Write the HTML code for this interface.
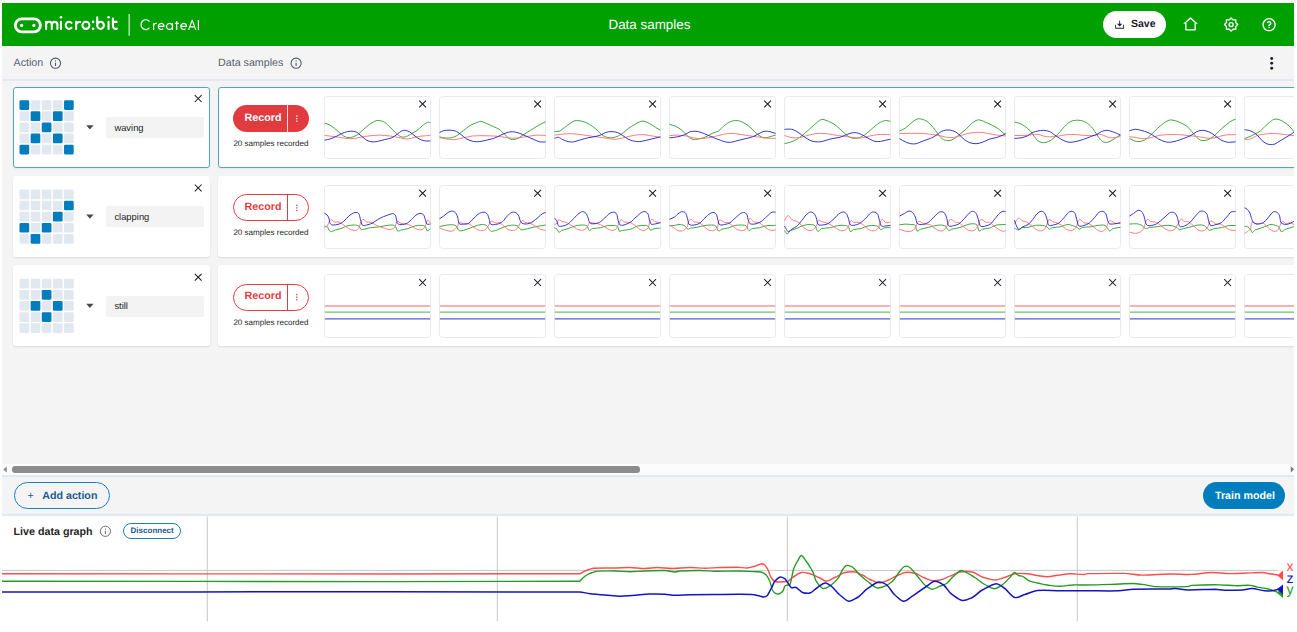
<!DOCTYPE html>
<html><head><meta charset="utf-8"><title>micro:bit CreateAI</title>
<style>
html,body{margin:0;padding:0;background:#fff;}
body{width:1297px;height:632px;overflow:hidden;position:relative;font-family:"Liberation Sans", sans-serif;color:#262626;text-rendering:geometricPrecision;}
#app{position:absolute;left:2px;top:3px;width:1292px;height:619px;background:#f4f4f4;overflow:hidden;}
.abs{position:absolute;}
.t{position:absolute;white-space:nowrap;line-height:1;}
.card{position:absolute;background:#fff;border-radius:3px;box-shadow:0 1px 2px rgba(0,0,0,0.10);box-sizing:border-box;}
.card.sel{border:1px solid #4ea3d3;box-shadow:0 1px 1.5px rgba(120,60,40,0.08);}
.inp{position:absolute;background:#f3f3f3;border-radius:2px;}
.samp{position:absolute;background:#fff;border:1px solid #e7eaf1;border-radius:3.5px;box-sizing:border-box;}
svg{position:absolute;left:0;top:0;overflow:visible;}
</style></head><body>
<div id="app">

<div class="abs" style="left:-2px;top:-3px;width:1297px;height:632px;">
<div class="abs" style="left:2px;top:3px;width:1292px;height:43px;background:#00a000;"></div>
<div class="t" style="left:608.5px;top:17.5px;font-size:13.4px;color:#fff;">Data samples</div>
<div class="abs" style="left:1103px;top:10.7px;width:63px;height:27px;border-radius:14px;background:#fff;"></div>
<div class="t" style="left:1131px;top:19px;font-size:10.5px;font-weight:bold;color:#1a202c;">Save</div>
<div class="t" style="left:13.5px;top:57.6px;font-size:10.7px;color:#5a6270;">Action</div>
<div class="t" style="left:218px;top:57.6px;font-size:10.7px;color:#5a6270;">Data samples</div>
<div class="abs" style="left:2px;top:79px;width:1292px;height:2.4px;background:#e3e8f2;"></div>
<div class="card sel" style="left:13.1px;top:87.0px;width:196.9px;height:81.0px;"></div>
<div class="card sel" style="left:217.9px;top:87.0px;width:1090px;height:81.0px;"></div>
<div class="inp" style="left:106px;top:117.0px;width:97.6px;height:21px;"></div>
<div class="t" style="left:114.4px;top:122.8px;font-size:9.4px;color:#262626;">waving</div>
<div class="abs" style="left:233px;top:105.0px;width:76px;height:27px;border-radius:14px;background:#e23b3f;box-sizing:border-box;"></div>
<div class="abs" style="left:287.2px;top:105.0px;width:0.8px;height:27px;background:#fff;opacity:.85"></div>
<div class="t" style="left:244.6px;top:113.2px;font-size:10.7px;font-weight:bold;color:#fff;">Record</div>
<div class="t" style="left:233.4px;top:139.6px;font-size:8.05px;color:#262626;">20 samples recorded</div>
<div class="samp" style="left:324px;top:96px;width:107px;height:63px;"></div>
<div class="samp" style="left:439px;top:96px;width:107px;height:63px;"></div>
<div class="samp" style="left:554px;top:96px;width:107px;height:63px;"></div>
<div class="samp" style="left:669px;top:96px;width:107px;height:63px;"></div>
<div class="samp" style="left:784px;top:96px;width:107px;height:63px;"></div>
<div class="samp" style="left:899px;top:96px;width:107px;height:63px;"></div>
<div class="samp" style="left:1014px;top:96px;width:107px;height:63px;"></div>
<div class="samp" style="left:1129px;top:96px;width:107px;height:63px;"></div>
<div class="samp" style="left:1244px;top:96px;width:107px;height:63px;"></div>
<div class="card" style="left:13.1px;top:176.1px;width:196.9px;height:80.7px;"></div>
<div class="card" style="left:217.9px;top:176.1px;width:1090px;height:80.7px;"></div>
<div class="inp" style="left:106px;top:206.3px;width:97.6px;height:21px;"></div>
<div class="t" style="left:114.4px;top:212.1px;font-size:9.4px;color:#262626;">clapping</div>
<div class="abs" style="left:233px;top:194.3px;width:76px;height:27px;border-radius:14px;background:#fff;border:1px solid #e23b3f;box-sizing:border-box;"></div>
<div class="abs" style="left:287.2px;top:194.3px;width:0.8px;height:27px;background:#e23b3f;"></div>
<div class="t" style="left:244.6px;top:202.0px;font-size:10.7px;font-weight:bold;color:#e23b3f;">Record</div>
<div class="t" style="left:233.4px;top:229.4px;font-size:8.05px;color:#262626;">20 samples recorded</div>
<div class="samp" style="left:324px;top:185px;width:107px;height:64px;"></div>
<div class="samp" style="left:439px;top:185px;width:107px;height:64px;"></div>
<div class="samp" style="left:554px;top:185px;width:107px;height:64px;"></div>
<div class="samp" style="left:669px;top:185px;width:107px;height:64px;"></div>
<div class="samp" style="left:784px;top:185px;width:107px;height:64px;"></div>
<div class="samp" style="left:899px;top:185px;width:107px;height:64px;"></div>
<div class="samp" style="left:1014px;top:185px;width:107px;height:64px;"></div>
<div class="samp" style="left:1129px;top:185px;width:107px;height:64px;"></div>
<div class="samp" style="left:1244px;top:185px;width:107px;height:64px;"></div>
<div class="card" style="left:13.1px;top:265.3px;width:196.9px;height:81.2px;"></div>
<div class="card" style="left:217.9px;top:265.3px;width:1090px;height:81.2px;"></div>
<div class="inp" style="left:106px;top:295.6px;width:97.6px;height:21px;"></div>
<div class="t" style="left:114.4px;top:301.4px;font-size:9.4px;color:#262626;">still</div>
<div class="abs" style="left:233px;top:283.6px;width:76px;height:27px;border-radius:14px;background:#fff;border:1px solid #e23b3f;box-sizing:border-box;"></div>
<div class="abs" style="left:287.2px;top:283.6px;width:0.8px;height:27px;background:#e23b3f;"></div>
<div class="t" style="left:244.6px;top:291.3px;font-size:10.7px;font-weight:bold;color:#e23b3f;">Record</div>
<div class="t" style="left:233.4px;top:318.7px;font-size:8.05px;color:#262626;">20 samples recorded</div>
<div class="samp" style="left:324px;top:274px;width:107px;height:64px;"></div>
<div class="samp" style="left:439px;top:274px;width:107px;height:64px;"></div>
<div class="samp" style="left:554px;top:274px;width:107px;height:64px;"></div>
<div class="samp" style="left:669px;top:274px;width:107px;height:64px;"></div>
<div class="samp" style="left:784px;top:274px;width:107px;height:64px;"></div>
<div class="samp" style="left:899px;top:274px;width:107px;height:64px;"></div>
<div class="samp" style="left:1014px;top:274px;width:107px;height:64px;"></div>
<div class="samp" style="left:1129px;top:274px;width:107px;height:64px;"></div>
<div class="samp" style="left:1244px;top:274px;width:107px;height:64px;"></div>
<div class="abs" style="left:2px;top:464px;width:1292px;height:10.8px;background:#fcfcfc;"></div>
<div class="abs" style="left:12px;top:466.2px;width:628.2px;height:6.4px;border-radius:3.2px;background:#8c8c8c;"></div>
<div class="abs" style="left:2px;top:474.7px;width:1292px;height:2.2px;background:#e3e8f2;"></div>
<div class="abs" style="left:13.6px;top:482px;width:96.2px;height:26.7px;border-radius:14px;border:1.5px solid #1c7ec2;box-sizing:border-box;"></div>
<div class="t" style="left:27.6px;top:490.8px;font-size:10.7px;color:#1d5a90;">+</div>
<div class="t" style="left:42.2px;top:490.8px;font-size:10.7px;font-weight:bold;color:#1d5a90;">Add action</div>
<div class="abs" style="left:1203.1px;top:482px;width:81.9px;height:26.7px;border-radius:14px;background:#007dbc;"></div>
<div class="t" style="left:1215px;top:490.8px;font-size:10.7px;font-weight:bold;color:#fff;">Train model</div>
<div class="abs" style="left:2px;top:514.3px;width:1292px;height:2.2px;background:#e3e8f2;"></div>
<div class="abs" style="left:2px;top:516.4px;width:1292px;height:116px;background:#fff;"></div>
<div class="t" style="left:13.6px;top:526.8px;font-size:10.7px;font-weight:bold;color:#262626;">Live data graph</div>
<div class="abs" style="left:123px;top:523px;width:57.6px;height:16.2px;border-radius:8.1px;border:1.5px solid #1c7ec2;box-sizing:border-box;background:#fff;"></div>
<div class="t" style="left:130.6px;top:527.2px;font-size:8px;font-weight:bold;color:#1d5a90;">Disconnect</div>
<svg width="1297" height="632" viewBox="0 0 1297 632"><rect x="19.50" y="100.20" width="9.70" height="9.70" rx="1.3" fill="#007dbc"/><rect x="30.63" y="100.20" width="9.70" height="9.70" rx="1.3" fill="#e2e8f0"/><rect x="41.76" y="100.20" width="9.70" height="9.70" rx="1.3" fill="#e2e8f0"/><rect x="52.89" y="100.20" width="9.70" height="9.70" rx="1.3" fill="#e2e8f0"/><rect x="64.02" y="100.20" width="9.70" height="9.70" rx="1.3" fill="#007dbc"/><rect x="19.50" y="111.33" width="9.70" height="9.70" rx="1.3" fill="#e2e8f0"/><rect x="30.63" y="111.33" width="9.70" height="9.70" rx="1.3" fill="#007dbc"/><rect x="41.76" y="111.33" width="9.70" height="9.70" rx="1.3" fill="#e2e8f0"/><rect x="52.89" y="111.33" width="9.70" height="9.70" rx="1.3" fill="#007dbc"/><rect x="64.02" y="111.33" width="9.70" height="9.70" rx="1.3" fill="#e2e8f0"/><rect x="19.50" y="122.46" width="9.70" height="9.70" rx="1.3" fill="#e2e8f0"/><rect x="30.63" y="122.46" width="9.70" height="9.70" rx="1.3" fill="#e2e8f0"/><rect x="41.76" y="122.46" width="9.70" height="9.70" rx="1.3" fill="#007dbc"/><rect x="52.89" y="122.46" width="9.70" height="9.70" rx="1.3" fill="#e2e8f0"/><rect x="64.02" y="122.46" width="9.70" height="9.70" rx="1.3" fill="#e2e8f0"/><rect x="19.50" y="133.59" width="9.70" height="9.70" rx="1.3" fill="#e2e8f0"/><rect x="30.63" y="133.59" width="9.70" height="9.70" rx="1.3" fill="#007dbc"/><rect x="41.76" y="133.59" width="9.70" height="9.70" rx="1.3" fill="#e2e8f0"/><rect x="52.89" y="133.59" width="9.70" height="9.70" rx="1.3" fill="#007dbc"/><rect x="64.02" y="133.59" width="9.70" height="9.70" rx="1.3" fill="#e2e8f0"/><rect x="19.50" y="144.72" width="9.70" height="9.70" rx="1.3" fill="#007dbc"/><rect x="30.63" y="144.72" width="9.70" height="9.70" rx="1.3" fill="#e2e8f0"/><rect x="41.76" y="144.72" width="9.70" height="9.70" rx="1.3" fill="#e2e8f0"/><rect x="52.89" y="144.72" width="9.70" height="9.70" rx="1.3" fill="#e2e8f0"/><rect x="64.02" y="144.72" width="9.70" height="9.70" rx="1.3" fill="#007dbc"/><path d="M86.2 125.20h7.4l-3.7 4.2z" fill="#4a4a4a"/><path d="M194.80 95.20L201.60 102.00M201.60 95.20L194.80 102.00" stroke="#191c22" stroke-width="1.05" fill="none"/><path d="M419.20 100.60L426.00 107.40M426.00 100.60L419.20 107.40" stroke="#191c22" stroke-width="1.05" fill="none"/><path d="M534.20 100.60L541.00 107.40M541.00 100.60L534.20 107.40" stroke="#191c22" stroke-width="1.05" fill="none"/><path d="M649.20 100.60L656.00 107.40M656.00 100.60L649.20 107.40" stroke="#191c22" stroke-width="1.05" fill="none"/><path d="M764.20 100.60L771.00 107.40M771.00 100.60L764.20 107.40" stroke="#191c22" stroke-width="1.05" fill="none"/><path d="M879.20 100.60L886.00 107.40M886.00 100.60L879.20 107.40" stroke="#191c22" stroke-width="1.05" fill="none"/><path d="M994.20 100.60L1001.00 107.40M1001.00 100.60L994.20 107.40" stroke="#191c22" stroke-width="1.05" fill="none"/><path d="M1109.20 100.60L1116.00 107.40M1116.00 100.60L1109.20 107.40" stroke="#191c22" stroke-width="1.05" fill="none"/><path d="M1224.20 100.60L1231.00 107.40M1231.00 100.60L1224.20 107.40" stroke="#191c22" stroke-width="1.05" fill="none"/><path d="M1339.20 100.60L1346.00 107.40M1346.00 100.60L1339.20 107.40" stroke="#191c22" stroke-width="1.05" fill="none"/><rect x="19.50" y="189.50" width="9.70" height="9.70" rx="1.3" fill="#e2e8f0"/><rect x="30.63" y="189.50" width="9.70" height="9.70" rx="1.3" fill="#e2e8f0"/><rect x="41.76" y="189.50" width="9.70" height="9.70" rx="1.3" fill="#e2e8f0"/><rect x="52.89" y="189.50" width="9.70" height="9.70" rx="1.3" fill="#e2e8f0"/><rect x="64.02" y="189.50" width="9.70" height="9.70" rx="1.3" fill="#e2e8f0"/><rect x="19.50" y="200.63" width="9.70" height="9.70" rx="1.3" fill="#e2e8f0"/><rect x="30.63" y="200.63" width="9.70" height="9.70" rx="1.3" fill="#e2e8f0"/><rect x="41.76" y="200.63" width="9.70" height="9.70" rx="1.3" fill="#e2e8f0"/><rect x="52.89" y="200.63" width="9.70" height="9.70" rx="1.3" fill="#e2e8f0"/><rect x="64.02" y="200.63" width="9.70" height="9.70" rx="1.3" fill="#007dbc"/><rect x="19.50" y="211.76" width="9.70" height="9.70" rx="1.3" fill="#e2e8f0"/><rect x="30.63" y="211.76" width="9.70" height="9.70" rx="1.3" fill="#e2e8f0"/><rect x="41.76" y="211.76" width="9.70" height="9.70" rx="1.3" fill="#e2e8f0"/><rect x="52.89" y="211.76" width="9.70" height="9.70" rx="1.3" fill="#007dbc"/><rect x="64.02" y="211.76" width="9.70" height="9.70" rx="1.3" fill="#e2e8f0"/><rect x="19.50" y="222.89" width="9.70" height="9.70" rx="1.3" fill="#007dbc"/><rect x="30.63" y="222.89" width="9.70" height="9.70" rx="1.3" fill="#e2e8f0"/><rect x="41.76" y="222.89" width="9.70" height="9.70" rx="1.3" fill="#007dbc"/><rect x="52.89" y="222.89" width="9.70" height="9.70" rx="1.3" fill="#e2e8f0"/><rect x="64.02" y="222.89" width="9.70" height="9.70" rx="1.3" fill="#e2e8f0"/><rect x="19.50" y="234.02" width="9.70" height="9.70" rx="1.3" fill="#e2e8f0"/><rect x="30.63" y="234.02" width="9.70" height="9.70" rx="1.3" fill="#007dbc"/><rect x="41.76" y="234.02" width="9.70" height="9.70" rx="1.3" fill="#e2e8f0"/><rect x="52.89" y="234.02" width="9.70" height="9.70" rx="1.3" fill="#e2e8f0"/><rect x="64.02" y="234.02" width="9.70" height="9.70" rx="1.3" fill="#e2e8f0"/><path d="M86.2 214.50h7.4l-3.7 4.2z" fill="#4a4a4a"/><path d="M194.80 184.50L201.60 191.30M201.60 184.50L194.80 191.30" stroke="#191c22" stroke-width="1.05" fill="none"/><path d="M419.20 189.90L426.00 196.70M426.00 189.90L419.20 196.70" stroke="#191c22" stroke-width="1.05" fill="none"/><path d="M534.20 189.90L541.00 196.70M541.00 189.90L534.20 196.70" stroke="#191c22" stroke-width="1.05" fill="none"/><path d="M649.20 189.90L656.00 196.70M656.00 189.90L649.20 196.70" stroke="#191c22" stroke-width="1.05" fill="none"/><path d="M764.20 189.90L771.00 196.70M771.00 189.90L764.20 196.70" stroke="#191c22" stroke-width="1.05" fill="none"/><path d="M879.20 189.90L886.00 196.70M886.00 189.90L879.20 196.70" stroke="#191c22" stroke-width="1.05" fill="none"/><path d="M994.20 189.90L1001.00 196.70M1001.00 189.90L994.20 196.70" stroke="#191c22" stroke-width="1.05" fill="none"/><path d="M1109.20 189.90L1116.00 196.70M1116.00 189.90L1109.20 196.70" stroke="#191c22" stroke-width="1.05" fill="none"/><path d="M1224.20 189.90L1231.00 196.70M1231.00 189.90L1224.20 196.70" stroke="#191c22" stroke-width="1.05" fill="none"/><path d="M1339.20 189.90L1346.00 196.70M1346.00 189.90L1339.20 196.70" stroke="#191c22" stroke-width="1.05" fill="none"/><rect x="19.50" y="278.80" width="9.70" height="9.70" rx="1.3" fill="#e2e8f0"/><rect x="30.63" y="278.80" width="9.70" height="9.70" rx="1.3" fill="#e2e8f0"/><rect x="41.76" y="278.80" width="9.70" height="9.70" rx="1.3" fill="#e2e8f0"/><rect x="52.89" y="278.80" width="9.70" height="9.70" rx="1.3" fill="#e2e8f0"/><rect x="64.02" y="278.80" width="9.70" height="9.70" rx="1.3" fill="#e2e8f0"/><rect x="19.50" y="289.93" width="9.70" height="9.70" rx="1.3" fill="#e2e8f0"/><rect x="30.63" y="289.93" width="9.70" height="9.70" rx="1.3" fill="#e2e8f0"/><rect x="41.76" y="289.93" width="9.70" height="9.70" rx="1.3" fill="#007dbc"/><rect x="52.89" y="289.93" width="9.70" height="9.70" rx="1.3" fill="#e2e8f0"/><rect x="64.02" y="289.93" width="9.70" height="9.70" rx="1.3" fill="#e2e8f0"/><rect x="19.50" y="301.06" width="9.70" height="9.70" rx="1.3" fill="#e2e8f0"/><rect x="30.63" y="301.06" width="9.70" height="9.70" rx="1.3" fill="#007dbc"/><rect x="41.76" y="301.06" width="9.70" height="9.70" rx="1.3" fill="#e2e8f0"/><rect x="52.89" y="301.06" width="9.70" height="9.70" rx="1.3" fill="#007dbc"/><rect x="64.02" y="301.06" width="9.70" height="9.70" rx="1.3" fill="#e2e8f0"/><rect x="19.50" y="312.19" width="9.70" height="9.70" rx="1.3" fill="#e2e8f0"/><rect x="30.63" y="312.19" width="9.70" height="9.70" rx="1.3" fill="#e2e8f0"/><rect x="41.76" y="312.19" width="9.70" height="9.70" rx="1.3" fill="#007dbc"/><rect x="52.89" y="312.19" width="9.70" height="9.70" rx="1.3" fill="#e2e8f0"/><rect x="64.02" y="312.19" width="9.70" height="9.70" rx="1.3" fill="#e2e8f0"/><rect x="19.50" y="323.32" width="9.70" height="9.70" rx="1.3" fill="#e2e8f0"/><rect x="30.63" y="323.32" width="9.70" height="9.70" rx="1.3" fill="#e2e8f0"/><rect x="41.76" y="323.32" width="9.70" height="9.70" rx="1.3" fill="#e2e8f0"/><rect x="52.89" y="323.32" width="9.70" height="9.70" rx="1.3" fill="#e2e8f0"/><rect x="64.02" y="323.32" width="9.70" height="9.70" rx="1.3" fill="#e2e8f0"/><path d="M86.2 303.80h7.4l-3.7 4.2z" fill="#4a4a4a"/><path d="M194.80 273.80L201.60 280.60M201.60 273.80L194.80 280.60" stroke="#191c22" stroke-width="1.05" fill="none"/><path d="M419.20 279.20L426.00 286.00M426.00 279.20L419.20 286.00" stroke="#191c22" stroke-width="1.05" fill="none"/><path d="M534.20 279.20L541.00 286.00M541.00 279.20L534.20 286.00" stroke="#191c22" stroke-width="1.05" fill="none"/><path d="M649.20 279.20L656.00 286.00M656.00 279.20L649.20 286.00" stroke="#191c22" stroke-width="1.05" fill="none"/><path d="M764.20 279.20L771.00 286.00M771.00 279.20L764.20 286.00" stroke="#191c22" stroke-width="1.05" fill="none"/><path d="M879.20 279.20L886.00 286.00M886.00 279.20L879.20 286.00" stroke="#191c22" stroke-width="1.05" fill="none"/><path d="M994.20 279.20L1001.00 286.00M1001.00 279.20L994.20 286.00" stroke="#191c22" stroke-width="1.05" fill="none"/><path d="M1109.20 279.20L1116.00 286.00M1116.00 279.20L1109.20 286.00" stroke="#191c22" stroke-width="1.05" fill="none"/><path d="M1224.20 279.20L1231.00 286.00M1231.00 279.20L1224.20 286.00" stroke="#191c22" stroke-width="1.05" fill="none"/><path d="M1339.20 279.20L1346.00 286.00M1346.00 279.20L1339.20 286.00" stroke="#191c22" stroke-width="1.05" fill="none"/><circle cx="55.50" cy="63.20" r="5.05" fill="none" stroke="#555a69" stroke-width="1.10"/><path d="M55.50 62.65V66.00" stroke="#555a69" stroke-width="1.10"/><rect x="54.95" y="60.40" width="1.10" height="1.1" fill="#555a69"/><circle cx="296.10" cy="63.20" r="5.05" fill="none" stroke="#555a69" stroke-width="1.10"/><path d="M296.10 62.65V66.00" stroke="#555a69" stroke-width="1.10"/><rect x="295.55" y="60.40" width="1.10" height="1.1" fill="#555a69"/><circle cx="105.40" cy="531.30" r="5.10" fill="none" stroke="#55555f" stroke-width="0.85"/><path d="M105.40 530.75V534.10" stroke="#55555f" stroke-width="0.85"/><rect x="104.98" y="528.50" width="0.85" height="1.1" fill="#55555f"/><circle cx="1271.7" cy="58.5" r="1.45" fill="#1a202c"/><circle cx="1271.7" cy="63.3" r="1.45" fill="#1a202c"/><circle cx="1271.7" cy="68.2" r="1.45" fill="#1a202c"/><path d="M3.2 469.5l3.6-3v6z" fill="#8b8b8b"/><path d="M1294.2 469.4l-3.4-3.1v6.2z" fill="#7a7a7a"/><path d="M2 570.4H1278.3" stroke="#c8c8c8" stroke-width="1" fill="none"/><path d="M207.3 516.5V621.4" stroke="#c8c8c8" stroke-width="1" fill="none"/><path d="M497.3 516.5V621.4" stroke="#c8c8c8" stroke-width="1" fill="none"/><path d="M787.3 516.5V621.4" stroke="#c8c8c8" stroke-width="1" fill="none"/><path d="M1077.3 516.5V621.4" stroke="#c8c8c8" stroke-width="1" fill="none"/><path d="M2.0 573.7C194.5 573.7 387.0 574.3 579.5 573.7C580.9 573.7 582.3 572.3 583.7 571.7C585.4 571.1 587.0 570.0 588.7 569.5C590.4 569.0 592.0 568.3 593.7 568.2C600.8 567.9 607.9 568.1 614.9 568.0C619.9 567.9 624.9 567.4 629.9 567.5C634.9 567.6 639.9 568.5 644.9 568.5C649.1 568.5 653.2 567.5 657.4 567.5C662.4 567.5 667.4 568.5 672.4 568.5C678.2 568.5 684.1 567.5 689.9 567.5C694.9 567.4 699.9 568.2 704.9 568.2C709.9 568.2 714.9 567.6 719.9 567.5C725.7 567.3 731.5 567.1 737.4 567.2C740.7 567.3 744.0 568.1 747.3 568.0C749.8 567.9 752.3 566.8 754.8 566.2C756.3 565.9 757.8 564.9 759.3 564.5C760.2 564.2 761.0 563.7 761.8 563.7C762.8 563.8 763.8 564.2 764.8 565.0C765.8 565.8 766.8 567.8 767.8 569.5C768.9 571.3 770.0 575.9 771.1 577.5C772.3 579.3 773.6 580.9 774.8 581.5C776.5 582.2 778.2 582.0 779.8 582.0C781.9 582.0 784.0 581.5 786.1 581.5C786.5 581.5 787.0 582.2 787.5 582.0C789.1 581.1 790.8 578.4 792.5 577.5C795.4 575.8 798.3 573.0 801.2 572.5C804.1 571.9 807.0 573.0 810.0 573.7C813.3 574.6 816.6 576.7 820.0 578.0C822.0 578.8 824.1 581.3 826.2 581.2C829.1 581.1 832.0 578.6 834.9 577.5C838.3 576.2 841.6 573.3 844.9 572.5C848.3 571.7 851.6 571.6 854.9 572.0C857.4 572.3 859.9 573.9 862.4 575.0C864.9 576.0 867.4 578.5 869.9 579.5C873.2 580.8 876.6 582.8 879.9 583.0C882.4 583.1 884.9 581.4 887.4 580.5C890.3 579.4 893.2 577.4 896.1 576.2C899.1 575.1 902.0 572.9 904.9 572.5C908.2 572.0 911.6 572.5 914.9 573.2C917.8 573.9 920.7 576.4 923.6 577.5C926.5 578.5 929.5 580.3 932.4 580.7C934.9 581.0 937.4 580.5 939.9 580.0C943.2 579.2 946.5 577.4 949.9 576.2C953.2 575.1 956.5 572.5 959.9 572.0C964.0 571.3 968.2 571.2 972.3 572.0C975.7 572.6 979.0 576.0 982.3 577.0C986.5 578.2 990.7 579.9 994.8 580.0C998.2 580.0 1001.5 578.4 1004.8 577.5C1008.1 576.6 1011.5 574.2 1014.8 573.7C1019.0 573.1 1023.1 573.4 1027.3 573.7C1030.6 573.9 1034.0 575.0 1037.3 575.5C1040.6 575.9 1044.0 576.8 1047.3 576.7C1051.4 576.6 1055.6 575.4 1059.8 575.0C1063.1 574.6 1066.4 573.8 1069.8 573.7C1074.5 573.6 1079.3 574.5 1084.0 574.5C1085.1 574.5 1086.3 573.6 1087.4 573.6C1099.6 573.4 1111.8 573.2 1124.0 573.4C1130.0 573.6 1136.1 575.0 1142.2 575.1C1151.4 575.2 1160.5 574.1 1169.6 574.0C1176.9 573.9 1184.2 574.6 1191.6 574.4C1198.3 574.2 1205.0 572.6 1211.7 572.5C1217.7 572.4 1223.8 573.6 1229.9 573.6C1236.6 573.7 1243.3 573.1 1250.0 572.9C1254.3 572.8 1258.6 572.4 1262.8 572.5C1265.3 572.6 1267.7 573.5 1270.1 573.8C1272.9 574.2 1275.6 574.7 1278.3 575.1" stroke="#ff4d4d" stroke-width="1.4" fill="none" stroke-linejoin="round"/><path d="M2.0 581.2C194.5 581.2 387.0 582.1 579.5 581.2C580.6 581.2 581.8 578.8 583.0 578.0C584.5 576.9 586.0 575.2 587.5 574.5C589.1 573.7 590.8 572.9 592.5 572.5C594.3 572.0 596.1 571.3 598.0 571.2C603.6 570.9 609.3 570.9 614.9 571.0C619.9 571.0 624.9 571.7 629.9 571.7C634.9 571.7 639.9 571.1 644.9 571.0C651.6 570.8 658.2 570.3 664.9 570.5C668.2 570.6 671.6 571.9 674.9 572.0C676.6 572.0 678.2 571.1 679.9 571.0C686.6 570.6 693.2 570.4 699.9 570.5C704.9 570.5 709.9 571.2 714.9 571.2C723.2 571.3 731.5 570.9 739.9 571.0C744.8 571.0 749.8 571.5 754.8 571.7C756.9 571.8 759.0 571.5 761.1 572.0C762.7 572.4 764.4 573.5 766.1 575.0C767.3 576.1 768.6 578.7 769.8 581.2C770.7 582.9 771.5 588.3 772.3 590.0C773.2 591.6 774.0 592.5 774.8 593.0C776.1 593.6 777.3 594.2 778.6 594.0C780.0 593.7 781.4 592.7 782.8 591.2C783.5 590.5 784.2 587.0 784.8 586.2C785.6 585.2 786.5 585.2 787.3 585.0C788.2 584.7 789.1 586.4 790.0 584.5C791.2 581.8 792.5 572.0 793.7 568.7C795.0 565.4 796.2 563.1 797.5 561.2C798.7 559.4 800.0 555.5 801.2 555.5C802.9 555.5 804.5 559.3 806.2 561.2C808.3 563.7 810.4 567.7 812.5 571.2C813.7 573.3 815.0 579.1 816.2 581.2C817.5 583.3 818.7 585.2 820.0 586.2C821.2 587.3 822.5 588.8 823.7 588.7C826.2 588.5 828.7 586.6 831.2 585.0C833.7 583.4 836.2 580.3 838.7 577.5C839.9 576.1 841.2 571.7 842.4 570.0C843.7 568.3 844.9 565.8 846.2 565.5C848.3 565.0 850.3 565.8 852.4 567.0C854.9 568.4 857.4 573.0 859.9 575.0C862.4 577.0 864.9 579.5 867.4 581.2C869.5 582.7 871.6 585.0 873.7 586.2C874.9 586.9 876.2 588.0 877.4 588.0C879.9 588.0 882.4 587.2 884.9 586.2C887.4 585.3 889.9 583.3 892.4 581.2C894.9 579.1 897.4 573.9 899.9 571.2C901.1 569.9 902.4 567.7 903.6 567.0C904.9 566.3 906.1 566.0 907.4 566.2C908.6 566.5 909.9 567.7 911.1 568.7C913.2 570.5 915.3 574.1 917.4 576.2C919.9 578.7 922.4 583.1 924.9 585.0C927.4 586.8 929.9 589.0 932.4 589.2C934.9 589.4 937.4 587.1 939.9 586.2C941.9 585.5 944.0 585.0 946.1 583.7C948.6 582.2 951.1 578.1 953.6 576.2C956.1 574.3 958.6 571.0 961.1 570.5C963.2 570.1 965.3 572.1 967.3 573.0C969.8 574.1 972.3 576.1 974.8 577.5C978.2 579.3 981.5 582.9 984.8 584.5C988.2 586.1 991.5 588.8 994.8 588.7C997.7 588.6 1000.7 585.6 1003.6 583.7C1005.6 582.4 1007.7 579.3 1009.8 577.5C1011.3 576.1 1012.8 572.8 1014.3 572.5C1015.7 572.2 1017.1 574.9 1018.6 575.5C1019.8 576.0 1021.1 575.7 1022.3 576.2C1024.8 577.3 1027.3 580.3 1029.8 581.2C1032.3 582.2 1034.8 582.5 1037.3 583.0C1040.6 583.6 1044.0 584.6 1047.3 585.0C1051.4 585.5 1055.6 586.2 1059.8 586.2C1063.9 586.2 1068.1 585.1 1072.3 585.0C1076.2 584.8 1080.1 585.0 1084.0 585.0C1093.1 584.9 1102.1 584.6 1111.2 584.4C1118.5 584.2 1125.8 583.5 1133.1 583.5C1136.1 583.5 1139.2 584.0 1142.2 584.4C1146.5 584.9 1150.7 586.4 1155.0 586.6C1166.0 587.0 1176.9 586.9 1187.9 586.6C1189.1 586.6 1190.3 585.4 1191.6 585.3C1200.7 584.9 1209.8 584.7 1219.0 584.8C1224.4 584.8 1229.9 585.6 1235.4 585.7C1240.3 585.8 1245.2 585.0 1250.0 585.3C1252.5 585.5 1254.9 586.7 1257.3 587.1C1261.0 587.8 1264.6 588.2 1268.3 589.0C1271.3 589.6 1274.4 591.2 1277.4 592.1" stroke="#229c22" stroke-width="1.35" fill="none" stroke-linejoin="round"/><path d="M2.0 592.0C194.5 592.0 387.0 591.5 579.5 592.0C583.0 592.0 586.5 593.4 590.0 593.7C595.0 594.2 600.0 594.6 605.0 595.0C609.9 595.3 614.9 596.1 619.9 596.2C624.1 596.3 628.3 595.7 632.4 595.5C638.3 595.1 644.1 594.2 649.9 594.0C654.9 593.8 659.9 594.0 664.9 594.2C668.2 594.4 671.6 595.2 674.9 595.2C679.9 595.3 684.9 594.8 689.9 594.7C698.2 594.6 706.5 594.5 714.9 594.5C722.4 594.4 729.9 594.2 737.4 594.2C742.3 594.2 747.3 594.1 752.3 594.5C754.8 594.6 757.3 595.5 759.8 596.0C761.1 596.2 762.3 597.0 763.6 597.0C764.8 596.9 766.1 596.6 767.3 595.5C768.6 594.3 769.8 590.7 771.1 588.7C772.3 586.7 773.6 582.6 774.8 581.2C776.7 579.2 778.5 577.4 780.3 577.0C781.8 576.7 783.3 577.8 784.8 578.7C785.6 579.2 786.5 581.0 787.3 582.0C788.6 583.5 789.9 586.8 791.2 587.5C792.9 588.3 794.6 586.8 796.2 587.5C798.3 588.3 800.4 591.8 802.5 592.5C805.0 593.3 807.5 593.7 810.0 593.0C812.5 592.3 815.0 588.9 817.5 587.5C820.0 586.0 822.5 583.2 825.0 583.0C827.0 582.8 829.1 584.8 831.2 586.2C834.1 588.2 837.0 592.8 839.9 595.0C842.9 597.1 845.8 600.9 848.7 601.2C851.6 601.6 854.5 599.1 857.4 597.5C860.8 595.6 864.1 590.8 867.4 588.7C871.2 586.4 874.9 582.7 878.7 582.0C881.2 581.5 883.7 582.8 886.2 584.5C889.1 586.4 892.0 592.6 894.9 595.0C897.8 597.3 900.7 601.0 903.6 601.2C906.6 601.4 909.5 597.8 912.4 596.2C916.5 593.9 920.7 589.8 924.9 587.5C928.2 585.6 931.5 581.6 934.9 581.2C937.8 580.9 940.7 583.1 943.6 585.0C946.1 586.6 948.6 592.0 951.1 593.7C954.9 596.3 958.6 599.9 962.3 600.5C965.7 601.0 969.0 598.9 972.3 597.5C975.7 596.0 979.0 591.6 982.3 590.0C986.9 587.7 991.5 584.2 996.1 583.7C998.6 583.5 1001.1 585.9 1003.6 587.5C1007.3 589.8 1011.1 596.4 1014.8 597.5C1018.1 598.4 1021.5 595.3 1024.8 594.5C1029.0 593.4 1033.1 590.8 1037.3 590.5C1044.8 589.8 1052.3 590.7 1059.8 590.7C1067.9 590.7 1075.9 590.7 1084.0 590.7C1095.5 590.7 1107.0 591.1 1118.5 590.8C1123.3 590.7 1128.2 589.5 1133.1 589.3C1145.3 589.0 1157.4 589.2 1169.6 589.0C1171.5 588.9 1173.3 588.3 1175.1 588.4C1179.4 588.6 1183.6 589.8 1187.9 589.9C1197.0 590.1 1206.2 589.3 1215.3 589.3C1218.4 589.4 1221.4 590.2 1224.4 590.2C1230.5 590.4 1236.6 590.2 1242.7 589.9C1245.8 589.7 1248.8 588.3 1251.9 588.4C1256.1 588.6 1260.4 590.4 1264.6 590.8C1267.1 591.0 1269.5 591.0 1271.9 590.8C1274.1 590.6 1276.2 589.7 1278.3 589.3" stroke="#1414c4" stroke-width="1.5" fill="none" stroke-linejoin="round"/><path d="M1277.3 575.4L1283 570.6V580.3z" fill="#ff4d4d"/><path d="M1276.5 592.6L1283 588.4V598z" fill="#229c22"/><path d="M1276.8 589.3L1283 584.4V594.3z" fill="#1414c4"/><text x="1286.4" y="571.3" font-size="14" fill="#ff4d4d" font-family="Liberation Sans, sans-serif">x</text><text x="1286.4" y="582.9" font-size="14" fill="#1414c4" font-family="Liberation Sans, sans-serif">z</text><text x="1286.4" y="594.2" font-size="14" fill="#229c22" font-family="Liberation Sans, sans-serif">y</text><path d="M324.5 123.2C326.1 123.6 327.6 124.0 329.2 124.8C330.9 125.6 332.7 127.1 334.5 128.3C336.3 129.6 338.1 131.7 339.9 133.0C341.7 134.3 343.5 136.3 345.3 136.9C347.0 137.6 348.8 137.7 350.6 137.5C352.7 137.2 354.8 136.3 356.9 135.1C359.0 134.0 361.1 131.4 363.1 129.8C365.2 128.2 367.3 125.8 369.4 124.4C371.2 123.2 373.0 121.9 374.8 121.2C376.1 120.7 377.5 120.3 378.9 120.5C380.8 120.7 382.7 121.2 384.6 122.3C386.4 123.2 388.2 125.6 390.0 127.1C391.8 128.6 393.6 131.0 395.3 132.5C397.1 133.9 398.9 135.8 400.7 136.6C402.2 137.2 403.7 137.3 405.2 136.9C407.0 136.6 408.8 135.1 410.6 134.3C412.6 133.2 414.7 132.0 416.8 130.7C418.6 129.5 420.4 127.1 422.2 125.8C424.0 124.6 425.8 122.9 427.5 122.3C428.5 121.9 429.5 122.5 430.4 122.6" stroke="#2a9e2a" stroke-width="0.90" fill="none"/><path d="M324.5 135.5C326.7 135.7 328.8 136.0 330.9 136.2C333.9 136.6 336.9 137.1 339.9 137.5C343.5 137.9 347.0 138.7 350.6 138.7C353.0 138.8 355.4 138.2 357.8 137.8C360.8 137.4 363.7 136.6 366.7 136.2C370.9 135.7 375.1 135.2 379.2 135.1C382.8 135.1 386.4 135.7 390.0 136.0C393.0 136.4 395.9 137.0 398.9 137.5C401.6 137.9 404.3 139.0 407.0 139.1C409.1 139.1 411.1 138.2 413.2 137.8C415.6 137.4 418.0 136.5 420.4 136.2C423.7 135.8 427.1 135.7 430.4 135.5" stroke="#ff6e6e" stroke-width="0.90" fill="none"/><path d="M324.5 140.2C326.7 139.7 328.8 139.4 330.9 138.7C333.3 138.0 335.7 136.5 338.1 135.5C340.2 134.6 342.3 133.1 344.4 132.5C346.4 131.8 348.5 131.3 350.6 131.2C352.4 131.1 354.2 131.2 356.0 131.9C357.8 132.6 359.6 134.8 361.4 136.0C363.1 137.3 364.9 139.3 366.7 140.2C368.5 141.0 370.3 141.8 372.1 141.9C373.9 142.1 375.7 141.7 377.5 141.4C379.8 141.0 382.2 140.2 384.6 139.6C387.0 139.1 389.4 138.7 391.8 137.8C393.6 137.1 395.3 135.4 397.1 134.3C398.6 133.3 400.1 131.7 401.6 131.0C402.8 130.5 404.0 130.2 405.2 130.3C406.7 130.5 408.2 131.1 409.7 131.9C411.4 132.9 413.2 134.9 415.0 136.0C416.8 137.2 418.6 138.9 420.4 139.6C422.2 140.4 424.0 140.8 425.8 141.0C427.3 141.2 428.9 140.9 430.4 140.9" stroke="#1e1ed2" stroke-width="0.90" fill="none"/><path d="M439.5 136.9C441.5 137.3 443.5 137.9 445.4 138.0C447.2 138.1 449.0 138.1 450.8 137.8C452.6 137.5 454.4 137.0 456.2 136.0C458.6 134.8 460.9 132.3 463.3 130.7C465.7 129.1 468.1 126.6 470.5 125.3C472.3 124.3 474.1 123.6 475.8 123.0C477.5 122.4 479.2 121.3 480.9 121.4C482.8 121.5 484.7 122.8 486.6 123.5C489.0 124.4 491.4 125.8 493.7 126.7C495.5 127.5 497.3 128.1 499.1 129.2C500.9 130.4 502.7 132.8 504.5 134.3C506.0 135.5 507.5 137.5 508.9 138.4C510.1 139.1 511.3 139.6 512.5 139.6C514.3 139.6 516.1 139.1 517.9 138.4C520.0 137.5 522.1 135.5 524.1 134.3C526.5 132.9 528.9 131.1 531.3 129.8C533.7 128.4 536.1 126.5 538.5 125.3C540.8 124.1 543.2 122.8 545.6 121.7" stroke="#2a9e2a" stroke-width="0.90" fill="none"/><path d="M439.5 137.5C442.1 138.0 444.7 138.7 447.2 139.1C449.6 139.4 452.0 139.8 454.4 139.6C457.4 139.4 460.3 138.4 463.3 137.8C466.3 137.3 469.3 136.3 472.3 136.0C475.8 135.7 479.4 135.7 483.0 135.7C486.6 135.7 490.2 135.8 493.7 136.0C496.7 136.2 499.7 136.6 502.7 136.9C505.7 137.3 508.6 138.0 511.6 138.2C514.0 138.3 516.4 138.1 518.8 137.8C521.8 137.5 524.7 136.8 527.7 136.4C530.7 136.0 533.7 135.3 536.7 135.1C539.7 135.0 542.6 135.4 545.6 135.5" stroke="#ff6e6e" stroke-width="0.90" fill="none"/><path d="M439.5 132.5C440.9 131.9 442.3 131.0 443.6 130.7C445.4 130.3 447.2 130.1 449.0 130.1C451.1 130.2 453.2 130.4 455.3 131.0C457.1 131.6 458.9 133.1 460.6 134.3C462.7 135.6 464.8 138.0 466.9 139.1C469.0 140.2 471.1 141.0 473.2 141.4C475.2 141.8 477.3 141.8 479.4 141.6C481.8 141.4 484.2 140.6 486.6 140.2C489.0 139.7 491.4 139.1 493.7 138.4C496.1 137.6 498.5 136.1 500.9 135.1C503.0 134.3 505.1 133.0 507.2 132.5C508.9 132.0 510.7 131.7 512.5 131.7C514.6 131.8 516.7 132.4 518.8 133.0C521.2 133.7 523.6 135.1 525.9 136.0C528.3 137.0 530.7 138.2 533.1 139.1C535.2 139.9 537.3 141.3 539.4 141.8C541.4 142.2 543.5 141.9 545.6 141.9" stroke="#1e1ed2" stroke-width="0.90" fill="none"/><path d="M554.5 131.6C556.1 131.5 557.6 131.8 559.2 131.2C560.9 130.6 562.7 128.8 564.5 127.6C566.3 126.5 568.1 124.6 569.9 123.5C571.4 122.6 572.9 121.3 574.4 120.8C575.9 120.4 577.3 120.5 578.8 120.7C580.6 120.8 582.4 121.3 584.2 121.9C586.0 122.5 587.8 123.4 589.6 124.4C591.7 125.5 593.7 127.3 595.8 128.9C597.6 130.2 599.4 132.9 601.2 134.3C602.7 135.3 604.2 136.5 605.7 136.9C607.8 137.6 609.8 138.0 611.9 137.8C614.0 137.7 616.1 136.9 618.2 136.0C620.0 135.3 621.8 133.7 623.6 132.5C625.3 131.3 627.1 129.1 628.9 128.0C630.7 126.8 632.5 125.7 634.3 124.8C636.1 123.8 637.9 122.3 639.7 121.7C641.1 121.2 642.6 120.9 644.1 121.2C645.9 121.5 647.7 122.7 649.5 123.5C651.6 124.5 653.7 126.3 655.8 127.5C657.3 128.3 658.9 129.5 660.4 130.3" stroke="#2a9e2a" stroke-width="0.90" fill="none"/><path d="M554.5 135.1C556.7 134.9 558.8 134.4 560.9 134.3C564.5 134.0 568.1 133.6 571.7 133.7C575.3 133.8 578.8 134.4 582.4 134.8C586.0 135.2 589.6 135.9 593.1 136.4C596.7 136.9 600.3 137.4 603.9 137.8C607.5 138.3 611.0 139.2 614.6 139.3C617.0 139.3 619.4 138.6 621.8 138.2C624.2 137.8 626.5 136.9 628.9 136.4C631.9 135.8 634.9 135.1 637.9 134.8C640.3 134.6 642.6 134.6 645.0 134.8C647.4 135.0 649.8 135.7 652.2 136.0C654.9 136.4 657.7 136.9 660.4 137.3" stroke="#ff6e6e" stroke-width="0.90" fill="none"/><path d="M554.5 138.4C555.8 138.0 557.0 137.1 558.3 137.3C559.8 137.5 561.2 139.0 562.7 139.6C564.5 140.3 566.3 141.2 568.1 141.6C569.9 141.9 571.7 142.2 573.5 141.9C575.9 141.6 578.2 140.4 580.6 139.8C583.0 139.2 585.4 138.3 587.8 137.8C590.2 137.3 592.5 137.1 594.9 136.6C597.0 136.2 599.1 135.5 601.2 134.8C602.7 134.3 604.2 132.9 605.7 132.5C607.5 131.9 609.2 131.6 611.0 131.6C613.1 131.6 615.2 131.8 617.3 132.5C619.1 133.0 620.9 134.5 622.7 135.5C624.5 136.5 626.2 138.2 628.0 139.1C629.8 139.9 631.6 140.7 633.4 141.0C635.5 141.5 637.6 141.7 639.7 141.6C642.0 141.4 644.4 140.6 646.8 140.2C649.2 139.7 651.6 138.9 654.0 138.4C656.1 137.9 658.3 137.4 660.4 136.9" stroke="#1e1ed2" stroke-width="0.90" fill="none"/><path d="M669.5 124.4C671.5 124.9 673.5 125.4 675.4 126.2C677.2 126.9 679.0 128.2 680.8 129.4C682.3 130.4 683.8 132.5 685.3 133.7C686.8 135.0 688.3 136.9 689.7 137.8C691.2 138.7 692.7 139.5 694.2 139.6C696.0 139.8 697.8 139.1 699.6 138.7C701.7 138.3 703.8 137.7 705.8 136.9C707.9 136.1 710.0 134.2 712.1 133.4C714.2 132.5 716.3 132.2 718.4 131.0C720.2 130.0 721.9 127.5 723.7 126.2C725.5 124.9 727.3 123.1 729.1 122.3C731.2 121.3 733.3 120.6 735.4 120.5C737.2 120.4 738.9 120.8 740.7 121.4C742.8 122.1 744.9 123.5 747.0 124.8C748.8 125.9 750.6 128.0 752.4 129.4C753.8 130.6 755.3 132.6 756.8 133.7C758.3 134.8 759.8 136.3 761.3 136.9C762.8 137.6 764.3 137.9 765.8 137.8C767.6 137.7 769.4 136.8 771.1 136.4C772.6 136.0 774.1 135.5 775.6 135.1" stroke="#2a9e2a" stroke-width="0.90" fill="none"/><path d="M669.5 135.7C672.1 135.5 674.7 135.1 677.2 135.1C680.2 135.2 683.2 135.6 686.2 136.0C688.6 136.4 690.9 137.4 693.3 137.8C695.7 138.2 698.1 138.7 700.5 138.7C702.9 138.7 705.2 138.2 707.6 137.8C710.6 137.4 713.6 136.6 716.6 136.0C719.0 135.6 721.4 134.7 723.7 134.3C726.1 133.8 728.5 133.4 730.9 133.4C733.9 133.4 736.9 133.9 739.8 134.3C742.8 134.6 745.8 135.3 748.8 135.7C751.8 136.1 754.7 136.6 757.7 136.9C760.7 137.3 763.7 138.0 766.7 138.2C769.7 138.4 772.6 138.3 775.6 138.4" stroke="#ff6e6e" stroke-width="0.90" fill="none"/><path d="M669.5 137.8C672.1 137.6 674.7 137.4 677.2 136.9C679.6 136.5 682.0 135.6 684.4 134.8C686.2 134.1 688.0 132.5 689.7 131.9C691.5 131.4 693.3 131.1 695.1 131.2C697.2 131.3 699.3 131.9 701.4 132.5C703.5 133.1 705.5 134.3 707.6 135.1C709.7 135.9 711.8 137.1 713.9 137.8C716.0 138.6 718.1 139.5 720.2 140.2C721.9 140.7 723.7 141.6 725.5 141.9C727.3 142.3 729.1 142.5 730.9 142.3C733.3 142.1 735.7 141.0 738.0 140.5C740.4 140.0 742.8 139.3 745.2 138.7C747.6 138.2 750.0 137.7 752.4 136.9C754.1 136.4 755.9 135.1 757.7 134.3C759.5 133.4 761.3 132.1 763.1 131.6C764.6 131.2 766.1 131.1 767.6 131.2C769.1 131.3 770.5 131.9 772.0 132.3C773.2 132.6 774.4 133.0 775.6 133.4" stroke="#1e1ed2" stroke-width="0.90" fill="none"/><path d="M784.5 143.6C786.4 143.2 788.2 142.9 790.1 142.3C792.1 141.7 794.2 140.7 796.3 139.6C798.4 138.5 800.5 136.6 802.6 135.1C804.7 133.7 806.7 131.4 808.8 129.8C810.9 128.1 813.0 125.7 815.1 124.1C816.6 122.9 818.1 121.1 819.6 120.3C820.8 119.7 822.0 119.3 823.1 119.4C824.9 119.6 826.7 120.7 828.5 121.4C830.3 122.1 832.1 123.0 833.9 124.1C835.7 125.1 837.5 127.0 839.2 128.3C841.0 129.7 842.8 132.0 844.6 133.4C846.1 134.5 847.6 136.2 849.1 136.9C850.6 137.7 852.1 138.2 853.6 138.4C855.3 138.5 857.1 138.3 858.9 137.8C860.7 137.3 862.5 136.2 864.3 135.1C866.1 134.1 867.9 132.0 869.7 130.7C871.4 129.3 873.2 127.5 875.0 126.2C876.8 124.9 878.6 123.1 880.4 122.3C882.2 121.4 884.0 120.6 885.8 120.5C887.3 120.4 888.9 121.1 890.4 121.4" stroke="#2a9e2a" stroke-width="0.90" fill="none"/><path d="M784.5 135.5C786.7 136.1 788.8 137.1 790.9 137.5C793.3 137.8 795.7 138.0 798.1 137.8C800.5 137.6 802.9 136.6 805.3 136.0C807.6 135.5 810.0 134.7 812.4 134.3C814.8 133.8 817.2 133.4 819.6 133.4C822.5 133.3 825.5 133.6 828.5 133.9C831.5 134.2 834.5 135.1 837.5 135.5C840.4 135.9 843.4 136.2 846.4 136.6C849.4 136.9 852.4 137.6 855.3 137.8C857.7 138.0 860.1 138.1 862.5 137.8C864.9 137.6 867.3 136.5 869.7 136.0C872.0 135.6 874.4 135.0 876.8 134.8C879.2 134.5 881.6 134.4 884.0 134.4C886.1 134.4 888.3 134.7 890.4 134.8" stroke="#ff6e6e" stroke-width="0.90" fill="none"/><path d="M784.5 129.4C786.1 129.3 787.6 129.0 789.2 129.1C790.6 129.1 792.1 129.2 793.6 129.8C795.4 130.4 797.2 131.9 799.0 133.0C800.8 134.1 802.6 135.9 804.4 136.9C806.2 138.0 807.9 139.4 809.7 140.2C811.2 140.8 812.7 141.4 814.2 141.6C816.3 141.9 818.4 142.0 820.5 141.8C822.5 141.5 824.6 140.7 826.7 140.2C828.8 139.6 830.9 138.8 833.0 138.4C835.1 138.0 837.2 137.9 839.2 137.5C841.0 137.1 842.8 136.1 844.6 135.5C846.4 134.9 848.2 133.8 850.0 133.4C851.5 133.0 853.0 132.6 854.5 132.6C855.9 132.6 857.4 132.9 858.9 133.4C860.7 133.9 862.5 135.2 864.3 136.0C866.1 136.9 867.9 138.3 869.7 139.1C871.4 139.9 873.2 141.1 875.0 141.4C876.8 141.8 878.6 141.6 880.4 141.4C882.2 141.2 884.0 140.5 885.8 140.2C887.3 139.9 888.9 139.5 890.4 139.3" stroke="#1e1ed2" stroke-width="0.90" fill="none"/><path d="M899.5 131.0C901.5 130.1 903.5 129.2 905.4 128.0C907.2 126.9 909.0 124.8 910.8 123.5C912.3 122.4 913.8 120.7 915.3 119.9C916.5 119.3 917.7 118.7 918.9 118.7C920.6 118.7 922.4 119.3 924.2 119.9C925.7 120.5 927.2 121.5 928.7 122.6C930.2 123.8 931.7 126.0 933.2 127.6C934.7 129.2 936.1 131.7 937.6 133.4C939.1 135.0 940.6 137.6 942.1 138.7C943.6 139.8 945.1 140.3 946.6 140.5C948.1 140.7 949.6 140.6 951.1 140.2C952.5 139.8 954.0 138.8 955.5 137.8C957.3 136.7 959.1 134.7 960.9 133.4C962.7 132.0 964.5 130.4 966.3 128.9C968.0 127.4 969.8 124.9 971.6 123.5C973.1 122.4 974.6 121.1 976.1 120.5C977.3 120.0 978.5 119.7 979.7 119.9C981.8 120.3 983.8 121.5 985.9 122.3C988.0 123.1 990.1 124.3 992.2 125.3C994.3 126.3 996.4 127.5 998.5 128.9C1000.8 130.5 1003.2 133.3 1005.6 135.1" stroke="#2a9e2a" stroke-width="0.90" fill="none"/><path d="M899.5 133.4C903.3 133.4 907.0 133.4 910.8 133.4C914.4 133.4 918.0 133.2 921.5 133.4C924.5 133.5 927.5 133.9 930.5 134.3C933.5 134.6 936.4 135.0 939.4 135.5C941.8 135.9 944.2 137.0 946.6 137.3C949.0 137.6 951.4 137.7 953.7 137.5C956.1 137.2 958.5 136.1 960.9 135.5C963.3 134.9 965.7 133.8 968.0 133.4C970.4 132.9 972.8 132.6 975.2 132.5C977.0 132.3 978.8 132.2 980.6 132.3C983.0 132.4 985.3 133.0 987.7 133.4C990.7 133.8 993.7 134.7 996.7 135.1C999.7 135.5 1002.6 135.8 1005.6 136.0" stroke="#ff6e6e" stroke-width="0.90" fill="none"/><path d="M899.5 138.7C901.5 139.7 903.5 141.2 905.4 141.9C907.2 142.7 909.0 143.5 910.8 143.7C912.6 144.0 914.4 144.1 916.2 143.7C918.6 143.2 920.9 141.7 923.3 140.9C925.7 140.1 928.1 139.3 930.5 138.4C932.3 137.7 934.1 136.5 935.8 135.5C937.6 134.5 939.4 132.4 941.2 131.6C942.7 130.8 944.2 130.4 945.7 130.1C947.2 129.9 948.7 129.9 950.2 130.1C951.9 130.4 953.7 131.0 955.5 131.9C957.0 132.7 958.5 134.3 960.0 135.5C961.5 136.7 963.0 138.6 964.5 139.6C966.3 140.8 968.0 142.1 969.8 142.7C971.9 143.3 974.0 143.8 976.1 143.7C978.2 143.7 980.3 143.0 982.4 142.3C984.7 141.6 987.1 139.8 989.5 139.1C991.9 138.4 994.3 138.1 996.7 137.5C998.8 136.9 1000.8 136.0 1002.9 135.1C1003.8 134.8 1004.7 133.9 1005.6 133.4" stroke="#1e1ed2" stroke-width="0.90" fill="none"/><path d="M1014.5 122.1C1016.4 122.5 1018.2 122.8 1020.1 123.5C1021.8 124.2 1023.6 125.4 1025.4 126.6C1027.2 127.8 1029.0 129.7 1030.8 131.6C1032.3 133.1 1033.8 136.2 1035.3 137.8C1036.4 139.1 1037.6 140.8 1038.8 141.4C1040.3 142.2 1041.8 142.7 1043.3 142.7C1045.1 142.7 1046.9 142.1 1048.7 141.4C1050.5 140.7 1052.3 139.2 1054.0 137.8C1055.8 136.5 1057.6 134.2 1059.4 132.5C1061.2 130.7 1063.0 127.8 1064.8 126.2C1066.6 124.6 1068.4 122.6 1070.1 121.7C1071.9 120.8 1073.7 120.5 1075.5 120.3C1077.3 120.1 1079.1 120.1 1080.9 120.5C1082.7 120.8 1084.5 121.6 1086.2 122.6C1088.0 123.6 1089.8 125.3 1091.6 127.1C1093.1 128.6 1094.6 131.4 1096.1 133.4C1097.3 134.9 1098.5 137.4 1099.7 138.7C1100.8 140.0 1102.0 141.5 1103.2 141.9C1104.7 142.5 1106.2 142.6 1107.7 142.3C1109.5 141.9 1111.3 140.6 1113.1 139.6C1115.5 138.3 1118.0 136.2 1120.4 134.8" stroke="#2a9e2a" stroke-width="0.90" fill="none"/><path d="M1014.5 135.5C1017.2 135.5 1020.0 135.6 1022.7 135.5C1025.7 135.4 1028.7 135.0 1031.7 134.8C1033.8 134.6 1035.9 134.0 1037.9 134.3C1039.7 134.4 1041.5 135.7 1043.3 136.0C1045.4 136.5 1047.5 136.9 1049.6 136.9C1052.5 136.9 1055.5 136.4 1058.5 136.0C1061.5 135.7 1064.5 134.8 1067.5 134.6C1070.4 134.4 1073.4 134.5 1076.4 134.6C1079.4 134.7 1082.4 135.4 1085.3 135.5C1088.3 135.6 1091.3 135.7 1094.3 135.5C1096.1 135.4 1097.9 134.2 1099.7 134.3C1101.4 134.3 1103.2 135.5 1105.0 136.0C1106.8 136.6 1108.6 137.6 1110.4 137.8C1112.2 138.0 1114.0 137.7 1115.8 137.5C1117.3 137.3 1118.9 136.7 1120.4 136.4" stroke="#ff6e6e" stroke-width="0.90" fill="none"/><path d="M1014.5 138.4C1016.7 138.2 1018.8 138.2 1020.9 137.8C1023.0 137.5 1025.1 136.9 1027.2 136.0C1029.0 135.3 1030.8 133.2 1032.6 132.5C1034.4 131.7 1036.2 131.4 1037.9 131.0C1039.7 130.7 1041.5 130.2 1043.3 130.3C1045.4 130.4 1047.5 130.8 1049.6 131.6C1051.4 132.2 1053.1 134.1 1054.9 135.1C1056.7 136.2 1058.5 137.8 1060.3 138.7C1062.1 139.7 1063.9 140.8 1065.7 141.4C1067.2 141.9 1068.6 142.3 1070.1 142.3C1072.2 142.3 1074.3 141.8 1076.4 141.4C1078.8 140.9 1081.2 140.0 1083.6 139.3C1085.9 138.5 1088.3 137.4 1090.7 136.6C1092.8 135.9 1094.9 135.1 1097.0 134.3C1098.5 133.6 1100.0 132.1 1101.4 131.6C1103.2 130.9 1105.0 130.3 1106.8 130.3C1108.6 130.3 1110.4 131.1 1112.2 131.6C1114.0 132.1 1115.8 133.0 1117.5 133.7C1118.5 134.1 1119.5 134.7 1120.4 135.1" stroke="#1e1ed2" stroke-width="0.90" fill="none"/><path d="M1129.5 138.4C1131.2 139.1 1132.9 140.4 1134.5 140.9C1136.0 141.3 1137.5 141.7 1139.0 141.6C1140.8 141.5 1142.6 141.0 1144.4 140.2C1146.2 139.3 1148.0 137.5 1149.7 136.0C1151.5 134.6 1153.3 132.2 1155.1 130.7C1156.9 129.1 1158.7 127.2 1160.5 125.8C1162.3 124.5 1164.1 122.7 1165.8 121.7C1167.3 120.9 1168.8 120.1 1170.3 119.9C1172.1 119.8 1173.9 120.4 1175.7 120.8C1177.5 121.3 1179.3 122.2 1181.1 123.0C1183.1 123.9 1185.2 125.1 1187.3 126.6C1188.8 127.6 1190.3 130.0 1191.8 131.6C1193.3 133.1 1194.8 135.6 1196.3 136.9C1197.7 138.2 1199.2 139.6 1200.7 140.2C1202.2 140.7 1203.7 140.8 1205.2 140.5C1207.0 140.2 1208.8 139.3 1210.6 138.4C1212.4 137.4 1214.1 135.7 1215.9 134.3C1217.7 132.8 1219.5 130.4 1221.3 128.9C1223.1 127.4 1224.9 125.7 1226.7 124.4C1228.5 123.2 1230.2 121.4 1232.0 120.5C1233.2 119.9 1234.4 119.7 1235.6 119.4" stroke="#2a9e2a" stroke-width="0.90" fill="none"/><path d="M1129.5 136.6C1132.1 137.0 1134.7 137.5 1137.2 137.8C1139.6 138.1 1142.0 138.8 1144.4 138.7C1146.8 138.7 1149.1 138.0 1151.5 137.5C1153.9 137.0 1156.3 135.9 1158.7 135.5C1161.7 135.0 1164.7 134.7 1167.6 134.6C1171.2 134.5 1174.8 134.5 1178.4 134.6C1181.4 134.7 1184.3 135.2 1187.3 135.5C1190.3 135.8 1193.3 136.0 1196.3 136.4C1199.2 136.7 1202.2 137.5 1205.2 137.8C1207.6 138.1 1210.0 138.4 1212.4 138.2C1214.7 138.0 1217.1 136.9 1219.5 136.4C1221.9 135.9 1224.3 135.0 1226.7 134.8C1229.7 134.5 1232.6 134.7 1235.6 134.6" stroke="#ff6e6e" stroke-width="0.90" fill="none"/><path d="M1129.5 130.7C1131.5 130.2 1133.5 129.3 1135.4 129.2C1137.2 129.2 1139.0 129.9 1140.8 130.3C1143.2 130.9 1145.6 131.6 1148.0 132.5C1149.7 133.1 1151.5 134.5 1153.3 135.5C1155.1 136.5 1156.9 138.2 1158.7 139.1C1160.5 140.0 1162.3 140.9 1164.1 141.4C1165.8 141.9 1167.6 142.4 1169.4 142.3C1171.8 142.2 1174.2 141.5 1176.6 140.9C1179.0 140.3 1181.4 139.2 1183.7 138.4C1186.1 137.6 1188.5 136.6 1190.9 135.5C1192.7 134.7 1194.5 132.7 1196.3 131.9C1198.0 131.1 1199.8 130.4 1201.6 130.3C1203.4 130.2 1205.2 130.7 1207.0 131.2C1208.8 131.7 1210.6 132.7 1212.4 133.7C1214.1 134.7 1215.9 136.7 1217.7 137.8C1219.5 138.9 1221.3 140.4 1223.1 141.0C1224.9 141.7 1226.7 142.2 1228.5 142.3C1230.8 142.4 1233.2 141.9 1235.6 141.8" stroke="#1e1ed2" stroke-width="0.90" fill="none"/><path d="M1244.6 138.5C1246.4 137.9 1248.2 137.2 1250.0 136.5C1251.8 135.8 1253.6 134.7 1255.3 133.8C1257.0 133.1 1258.6 132.3 1260.2 131.1C1261.8 130.0 1263.4 127.7 1265.0 126.3C1266.5 125.1 1267.9 123.5 1269.3 122.5C1270.8 121.5 1272.2 120.0 1273.6 119.5C1275.1 119.0 1276.5 119.1 1278.0 119.3C1279.4 119.5 1280.8 120.4 1282.3 121.1C1284.1 122.0 1285.8 123.4 1287.6 124.7C1289.1 125.7 1290.5 127.5 1291.9 129.0C1292.6 129.6 1293.2 130.9 1293.9 131.7" stroke="#2a9e2a" stroke-width="0.90" fill="none"/><path d="M1244.6 139.5C1246.0 139.5 1247.5 139.7 1248.9 139.4C1250.3 139.1 1251.8 138.2 1253.2 137.6C1254.6 137.0 1256.1 135.9 1257.5 135.4C1259.3 134.9 1261.1 134.6 1262.9 134.4C1265.0 134.1 1267.2 133.7 1269.3 133.6C1271.9 133.5 1274.4 133.5 1276.9 133.6C1279.0 133.7 1281.2 134.2 1283.3 134.4C1285.1 134.5 1286.9 134.7 1288.7 134.9C1290.4 135.1 1292.2 135.4 1293.9 135.7" stroke="#ff6e6e" stroke-width="0.90" fill="none"/><path d="M1244.6 129.8C1246.0 130.0 1247.5 130.0 1248.9 130.4C1250.3 130.7 1251.8 131.5 1253.2 132.2C1254.6 133.0 1256.1 134.2 1257.5 135.4C1258.9 136.7 1260.4 139.1 1261.8 140.3C1263.2 141.5 1264.7 142.9 1266.1 143.5C1267.5 144.2 1269.0 144.5 1270.4 144.6C1271.9 144.7 1273.3 144.6 1274.7 144.1C1276.5 143.4 1278.3 141.8 1280.1 140.8C1281.9 139.9 1283.7 138.6 1285.5 137.6C1287.3 136.6 1289.1 135.4 1290.9 134.4C1291.9 133.8 1292.9 132.9 1293.9 132.2" stroke="#1e1ed2" stroke-width="0.90" fill="none"/><path d="M324.5 226.3C325.5 226.5 326.4 226.0 327.4 226.8C328.1 227.4 328.8 230.2 329.5 230.9C330.1 231.6 330.7 231.8 331.3 231.7C332.7 231.4 334.0 230.3 335.4 229.9C337.2 229.4 339.0 229.2 340.8 228.6C342.9 228.0 345.0 226.4 347.0 225.9C349.4 225.4 351.8 225.0 354.2 225.0C355.9 225.1 357.5 225.3 359.2 226.3C359.8 226.6 360.4 229.2 361.0 229.5C362.0 230.1 363.0 229.3 364.0 229.2C366.1 228.8 368.2 228.0 370.3 227.7C373.3 227.3 376.3 227.2 379.2 226.8C381.6 226.5 384.0 225.9 386.4 225.6C388.5 225.3 390.6 224.8 392.7 225.0C393.7 225.2 394.7 225.7 395.7 226.8C396.3 227.5 396.9 230.7 397.5 230.9C398.9 231.6 400.2 230.1 401.6 229.9C403.7 229.4 405.8 229.2 407.9 228.6C410.3 228.0 412.6 226.4 415.0 225.9C417.4 225.5 419.8 225.2 422.2 225.4C423.3 225.5 424.3 225.8 425.4 226.8C426.0 227.4 426.6 230.8 427.2 230.9C428.3 231.3 429.3 229.3 430.4 228.6" stroke="#2a9e2a" stroke-width="0.90" fill="none"/><path d="M324.5 227.4C325.5 226.9 326.4 227.0 327.4 225.9C328.0 225.3 328.6 222.3 329.2 221.5C329.9 220.4 330.6 219.6 331.3 219.7C332.4 219.8 333.4 221.7 334.5 222.0C336.0 222.4 337.5 221.5 339.0 222.0C340.5 222.5 342.0 224.1 343.5 225.0C345.3 226.1 347.0 227.8 348.8 228.6C350.6 229.4 352.4 230.4 354.2 230.4C355.7 230.4 357.2 230.4 358.7 228.6C359.4 227.7 360.2 222.9 361.0 221.5C361.7 220.1 362.4 219.3 363.1 219.3C364.3 219.4 365.5 221.6 366.7 222.0C368.2 222.5 369.7 221.9 371.2 222.4C373.0 222.9 374.8 224.7 376.6 225.4C378.6 226.3 380.7 227.1 382.8 227.7C384.9 228.3 387.0 229.5 389.1 229.5C390.9 229.5 392.7 229.3 394.5 227.7C395.3 226.9 396.2 222.0 397.1 221.5C398.3 220.7 399.5 223.0 400.7 223.3C402.5 223.7 404.3 223.4 406.1 223.8C407.9 224.2 409.7 225.1 411.4 225.9C413.2 226.7 415.0 228.6 416.8 229.2C418.6 229.7 420.4 230.1 422.2 229.5C423.3 229.1 424.3 227.7 425.4 225.9C426.0 225.0 426.6 221.3 427.2 220.6C427.9 219.7 428.6 220.4 429.3 220.9C429.7 221.2 430.1 222.6 430.4 223.3" stroke="#ff6e6e" stroke-width="0.90" fill="none"/><path d="M324.5 213.4C325.3 213.8 326.2 214.1 327.0 214.8C327.6 215.4 328.2 216.4 328.8 217.9C329.2 218.9 329.6 222.6 330.1 223.3C330.9 224.7 331.8 225.0 332.7 225.0C334.8 225.2 336.9 224.8 339.0 224.1C340.5 223.7 342.0 222.6 343.5 221.5C345.3 220.1 347.0 217.5 348.8 216.1C350.3 214.9 351.8 213.6 353.3 213.1C354.5 212.6 355.7 212.3 356.9 212.5C357.7 212.7 358.4 212.9 359.2 214.3C359.6 215.1 360.0 218.3 360.5 219.7C361.1 221.6 361.7 224.6 362.3 225.0C363.7 226.2 365.2 225.3 366.7 225.0C368.5 224.7 370.3 224.1 372.1 223.3C373.9 222.4 375.7 220.6 377.5 219.7C379.5 218.6 381.6 217.4 383.7 216.6C385.8 215.8 387.9 214.9 390.0 214.3C391.2 214.0 392.4 213.4 393.6 213.8C394.3 214.0 395.0 214.5 395.7 216.1C396.2 217.1 396.7 221.3 397.1 222.4C397.8 223.9 398.6 224.4 399.3 224.5C401.5 224.8 403.8 224.6 406.1 223.8C407.9 223.1 409.7 221.1 411.4 219.7C412.9 218.5 414.4 216.2 415.9 215.2C417.3 214.3 418.7 213.5 420.0 213.4C421.2 213.4 422.4 213.6 423.6 214.8C424.2 215.5 424.8 218.1 425.4 219.7C425.8 220.8 426.2 223.5 426.7 223.8C427.9 224.8 429.2 224.0 430.4 224.1" stroke="#1e1ed2" stroke-width="0.90" fill="none"/><path d="M439.5 226.5C441.5 226.1 443.5 225.7 445.4 225.4C447.2 225.1 449.0 224.6 450.8 224.7C452.6 224.8 454.4 224.8 456.2 225.9C456.9 226.4 457.6 229.1 458.3 229.9C459.1 230.7 459.9 231.0 460.6 230.9C462.7 230.8 464.8 229.8 466.9 229.2C469.3 228.4 471.7 227.2 474.1 226.5C476.4 225.8 478.8 224.7 481.2 224.5C483.0 224.4 484.8 224.6 486.6 225.6C487.5 226.1 488.4 228.5 489.3 229.5C489.9 230.2 490.5 231.3 491.1 231.3C493.1 231.4 495.2 230.5 497.3 229.9C499.7 229.2 502.1 227.6 504.5 226.8C506.3 226.3 508.0 225.6 509.8 225.4C512.2 225.2 514.6 224.9 517.0 225.6C517.9 225.8 518.8 227.9 519.7 228.6C520.4 229.2 521.2 229.9 522.0 229.9C523.9 229.9 525.8 229.0 527.7 228.6C530.7 228.0 533.7 227.0 536.7 226.5C539.7 225.9 542.6 225.5 545.6 225.0" stroke="#2a9e2a" stroke-width="0.90" fill="none"/><path d="M439.5 228.1C440.9 228.5 442.3 229.1 443.6 229.5C445.7 230.1 447.8 231.2 449.9 231.3C451.4 231.3 452.9 230.8 454.4 229.9C455.5 229.2 456.5 227.5 457.6 225.9C458.2 225.1 458.8 222.2 459.4 222.0C460.7 221.6 462.0 223.6 463.3 223.8C465.1 224.1 466.9 223.3 468.7 223.8C470.5 224.3 472.3 226.4 474.1 227.4C475.8 228.4 477.6 230.0 479.4 230.4C481.2 230.8 483.0 230.7 484.8 229.9C486.0 229.3 487.2 227.5 488.4 225.9C489.1 225.0 489.8 222.1 490.5 221.5C491.3 220.8 492.1 221.3 492.8 221.5C494.0 221.8 495.2 223.1 496.4 223.3C497.3 223.4 498.2 222.1 499.1 222.4C500.3 222.7 501.5 224.2 502.7 225.0C504.5 226.3 506.3 228.7 508.0 229.5C509.8 230.3 511.6 230.7 513.4 230.4C514.9 230.2 516.4 229.3 517.9 227.7C518.8 226.8 519.7 223.3 520.6 222.0C521.2 221.1 521.8 220.5 522.4 220.6C523.6 220.7 524.7 222.4 525.9 222.7C527.1 223.0 528.3 222.3 529.5 222.7C531.3 223.3 533.1 225.0 534.9 225.9C536.7 226.9 538.5 228.5 540.2 229.2C542.0 229.8 543.8 230.0 545.6 230.4" stroke="#ff6e6e" stroke-width="0.90" fill="none"/><path d="M439.5 218.8C440.9 218.0 442.3 217.0 443.6 216.1C445.1 215.1 446.6 213.4 448.1 212.5C449.3 211.8 450.5 211.1 451.7 211.1C452.9 211.1 454.1 211.4 455.3 212.5C456.0 213.2 456.8 214.9 457.6 217.0C458.0 218.1 458.4 222.8 458.9 223.3C460.3 224.9 461.8 224.1 463.3 224.1C465.1 224.1 466.9 224.2 468.7 223.3C470.5 222.3 472.3 219.4 474.1 217.9C475.8 216.4 477.6 214.3 479.4 213.4C480.9 212.6 482.4 212.0 483.9 212.2C485.1 212.3 486.3 212.8 487.5 214.3C488.1 215.1 488.7 217.9 489.3 219.7C489.7 220.9 490.1 223.9 490.5 224.1C492.8 225.3 495.0 224.6 497.3 224.1C499.1 223.8 500.9 222.8 502.7 221.5C504.2 220.4 505.7 217.4 507.2 216.1C508.6 214.8 510.1 213.1 511.6 212.5C512.8 212.0 514.0 212.1 515.2 212.5C516.3 212.9 517.3 213.6 518.4 215.2C519.0 216.1 519.6 219.4 520.2 220.6C520.8 221.8 521.4 223.0 522.0 223.3C523.9 224.0 525.8 224.1 527.7 223.8C529.5 223.5 531.3 222.5 533.1 221.5C534.9 220.4 536.7 218.3 538.5 217.0C539.9 215.9 541.4 214.2 542.9 213.4C543.8 212.9 544.7 212.8 545.6 212.5" stroke="#1e1ed2" stroke-width="0.90" fill="none"/><path d="M554.5 227.7C555.3 228.2 556.2 228.4 557.0 229.2C557.6 229.7 558.2 232.1 558.8 232.2C559.8 232.4 560.8 230.8 561.8 230.4C563.9 229.7 566.0 229.2 568.1 228.6C570.5 227.9 572.9 226.5 575.3 225.9C577.6 225.4 580.0 225.0 582.4 225.0C583.9 225.0 585.4 224.9 586.9 225.9C587.7 226.5 588.4 230.1 589.2 230.4C590.2 230.9 591.2 228.8 592.3 228.6C594.9 228.0 597.6 228.2 600.3 227.7C602.7 227.3 605.1 225.9 607.5 225.6C609.8 225.3 612.2 225.3 614.6 225.6C615.7 225.7 616.8 225.7 617.8 226.8C618.2 227.3 618.7 230.7 619.1 230.9C620.3 231.7 621.5 230.6 622.7 230.4C625.3 230.0 628.0 229.9 630.7 229.2C633.1 228.5 635.5 226.5 637.9 225.9C640.3 225.4 642.6 225.3 645.0 225.4C646.1 225.4 647.2 225.4 648.2 226.3C648.8 226.8 649.4 229.7 650.0 229.9C651.6 230.4 653.3 228.9 654.9 228.6C656.7 228.3 658.6 228.2 660.4 228.1" stroke="#2a9e2a" stroke-width="0.90" fill="none"/><path d="M554.5 224.5C555.3 224.1 556.2 224.1 557.0 223.3C557.6 222.6 558.2 219.9 558.8 219.7C559.8 219.3 560.8 221.1 561.8 221.5C563.3 221.9 564.8 221.8 566.3 222.4C567.8 222.9 569.3 224.2 570.8 225.0C572.6 226.1 574.4 227.8 576.2 228.6C577.9 229.4 579.7 230.4 581.5 230.4C583.0 230.4 584.5 229.7 586.0 228.6C586.8 228.1 587.5 226.2 588.3 225.0C588.7 224.4 589.1 222.8 589.6 222.7C591.4 222.3 593.1 223.0 594.9 223.3C596.7 223.5 598.5 223.8 600.3 224.5C602.1 225.2 603.9 226.9 605.7 227.7C607.8 228.7 609.8 230.2 611.9 230.4C613.4 230.5 614.9 229.9 616.4 228.6C617.1 228.0 617.8 225.4 618.5 224.1C619.3 222.7 620.1 219.9 620.9 219.7C622.1 219.3 623.3 221.7 624.5 222.0C626.2 222.5 628.0 221.9 629.8 222.4C631.3 222.8 632.8 224.1 634.3 225.0C636.1 226.2 637.9 228.3 639.7 229.2C641.1 229.9 642.6 230.6 644.1 230.4C645.5 230.2 646.9 229.6 648.2 227.7C648.8 226.9 649.4 222.6 650.0 221.5C650.7 220.1 651.5 219.3 652.2 219.3C653.4 219.4 654.6 221.6 655.8 222.0C657.3 222.5 658.9 222.2 660.4 222.4" stroke="#ff6e6e" stroke-width="0.90" fill="none"/><path d="M554.5 218.4C555.2 219.0 555.8 219.1 556.5 220.2C557.1 221.2 557.7 224.8 558.3 225.6C559.2 226.7 560.1 226.4 560.9 226.3C563.0 226.1 565.1 225.6 567.2 224.5C569.0 223.6 570.8 221.2 572.6 219.7C574.4 218.1 576.2 215.6 577.9 214.3C579.4 213.2 580.9 211.8 582.4 211.6C583.6 211.5 584.8 212.2 586.0 213.4C586.7 214.1 587.4 216.2 588.1 217.9C588.6 219.0 589.1 222.3 589.6 222.7C591.1 224.1 592.5 223.8 594.0 223.8C595.8 223.7 597.6 223.2 599.4 222.4C601.2 221.5 603.0 219.3 604.8 217.9C606.6 216.5 608.4 214.1 610.1 213.1C611.3 212.4 612.5 212.0 613.7 212.2C614.7 212.3 615.7 212.6 616.8 214.3C617.2 215.1 617.7 219.1 618.2 220.6C618.8 222.4 619.4 224.7 620.0 225.0C621.8 225.9 623.6 225.0 625.3 224.5C627.1 224.0 628.9 223.1 630.7 222.0C632.5 220.9 634.3 218.4 636.1 217.0C637.9 215.6 639.7 213.5 641.4 212.5C642.6 211.9 643.8 211.3 645.0 211.6C646.1 211.9 647.2 212.4 648.2 214.3C648.7 215.1 649.1 219.4 649.5 220.6C650.1 222.3 650.7 223.9 651.3 224.1C652.8 224.8 654.3 224.0 655.8 223.8C657.3 223.6 658.9 223.0 660.4 222.7" stroke="#1e1ed2" stroke-width="0.90" fill="none"/><path d="M669.5 225.9C671.2 225.8 672.9 225.6 674.5 225.4C676.0 225.2 677.5 224.5 679.0 224.5C680.8 224.5 682.6 224.7 684.4 225.6C685.6 226.1 686.8 228.7 688.0 229.2C688.9 229.5 689.7 228.2 690.6 228.1C692.7 227.7 694.8 227.7 696.9 227.4C699.3 227.0 701.7 225.9 704.1 225.6C706.1 225.3 708.2 225.0 710.3 225.0C712.1 225.1 713.9 224.8 715.7 225.9C716.6 226.5 717.5 230.5 718.4 230.9C719.6 231.5 720.8 229.5 721.9 229.2C724.3 228.5 726.7 228.3 729.1 227.7C730.9 227.3 732.7 226.0 734.5 225.6C736.3 225.2 738.0 225.0 739.8 225.0C741.9 225.1 744.0 224.8 746.1 225.9C747.0 226.4 747.9 230.1 748.8 230.4C750.0 230.9 751.2 228.9 752.4 228.6C754.7 228.1 757.1 228.2 759.5 227.7C761.9 227.3 764.3 225.9 766.7 225.6C769.7 225.2 772.6 225.5 775.6 225.4" stroke="#2a9e2a" stroke-width="0.90" fill="none"/><path d="M669.5 225.0C670.9 225.8 672.3 227.0 673.6 227.7C675.4 228.7 677.2 230.5 679.0 230.9C680.5 231.3 682.0 231.1 683.5 230.4C684.7 229.9 685.9 228.7 687.1 226.8C687.7 225.9 688.3 221.9 688.9 220.9C689.6 219.7 690.4 219.2 691.2 219.3C692.2 219.5 693.2 221.6 694.2 222.0C695.7 222.5 697.2 221.8 698.7 222.4C700.2 222.9 701.7 224.9 703.2 225.9C705.0 227.2 706.7 229.2 708.5 229.9C710.3 230.5 712.1 231.0 713.9 230.4C715.1 230.0 716.3 228.9 717.5 226.8C717.9 226.1 718.3 221.6 718.7 220.9C719.5 219.6 720.3 220.0 721.1 220.2C722.2 220.5 723.4 222.0 724.6 222.4C725.8 222.7 727.0 222.2 728.2 222.7C729.7 223.3 731.2 225.0 732.7 225.9C734.5 227.1 736.3 229.2 738.0 229.9C739.8 230.5 741.6 230.9 743.4 230.4C744.6 230.1 745.8 229.5 747.0 227.4C747.6 226.3 748.2 221.0 748.8 219.7C749.4 218.4 750.0 218.5 750.6 218.8C751.8 219.2 753.0 221.5 754.1 222.0C755.6 222.6 757.1 221.8 758.6 222.4C760.1 222.9 761.6 224.6 763.1 225.6C764.9 226.7 766.7 228.7 768.5 229.5C769.9 230.2 771.4 230.3 772.9 230.4C773.8 230.4 774.7 230.0 775.6 229.9" stroke="#ff6e6e" stroke-width="0.90" fill="none"/><path d="M669.5 219.3C671.2 218.6 672.9 218.0 674.5 217.0C676.0 216.1 677.5 213.9 679.0 213.1C680.2 212.3 681.4 211.6 682.6 211.6C683.7 211.7 684.7 212.0 685.8 213.4C686.4 214.2 687.0 216.9 687.6 218.8C688.0 220.1 688.4 223.8 688.9 224.1C690.6 225.7 692.4 225.2 694.2 225.0C696.0 224.9 697.8 224.3 699.6 223.3C701.4 222.2 703.2 219.4 705.0 217.9C706.7 216.4 708.5 214.4 710.3 213.4C711.5 212.8 712.7 212.3 713.9 212.5C714.8 212.7 715.7 213.3 716.6 214.8C717.1 215.7 717.5 219.0 718.0 220.6C718.4 221.9 718.8 224.3 719.3 224.5C721.1 225.5 722.8 224.8 724.6 224.5C726.4 224.2 728.2 223.7 730.0 222.7C731.8 221.7 733.6 219.3 735.4 217.9C737.2 216.5 738.9 214.4 740.7 213.4C741.9 212.8 743.1 212.3 744.3 212.5C745.2 212.7 746.1 213.3 747.0 214.8C747.5 215.7 747.9 219.4 748.4 220.6C749.0 222.1 749.6 223.6 750.2 223.8C752.1 224.5 754.0 224.1 755.9 223.8C757.7 223.4 759.5 222.5 761.3 221.5C763.1 220.4 764.9 218.0 766.7 216.6C768.5 215.2 770.2 213.0 772.0 212.2C773.2 211.6 774.4 212.2 775.6 212.2" stroke="#1e1ed2" stroke-width="0.90" fill="none"/><path d="M784.5 230.4C785.3 231.5 786.2 233.9 787.0 234.0C788.0 234.1 789.0 231.5 790.1 230.9C792.1 229.9 794.2 229.4 796.3 228.6C798.7 227.7 801.1 226.0 803.5 225.4C805.9 224.8 808.2 224.4 810.6 224.5C812.1 224.6 813.6 224.7 815.1 225.9C816.0 226.7 816.9 231.0 817.8 231.3C819.0 231.8 820.2 228.9 821.4 228.6C824.3 227.9 827.3 228.2 830.3 227.7C832.7 227.3 835.1 225.9 837.5 225.6C839.8 225.2 842.2 225.2 844.6 225.4C845.9 225.5 847.2 225.5 848.5 226.8C849.1 227.4 849.7 231.4 850.3 231.7C851.4 232.2 852.5 229.8 853.6 229.5C855.9 228.9 858.3 229.2 860.7 228.6C863.1 228.1 865.5 226.4 867.9 225.9C870.3 225.5 872.6 225.4 875.0 225.6C876.2 225.7 877.4 226.0 878.6 226.8C879.2 227.2 879.8 229.4 880.4 229.5C881.9 229.7 883.4 228.0 884.9 227.7C886.7 227.4 888.6 227.7 890.4 227.7" stroke="#2a9e2a" stroke-width="0.90" fill="none"/><path d="M784.5 220.9C785.2 219.7 785.8 217.7 786.5 217.0C787.2 216.1 788.0 215.4 788.8 215.7C789.8 216.2 790.8 219.0 791.8 219.7C793.0 220.5 794.2 220.5 795.4 220.9C796.6 221.4 797.8 221.9 799.0 222.7C800.5 223.8 802.0 226.3 803.5 227.4C805.3 228.6 807.0 230.1 808.8 230.4C810.3 230.7 811.8 230.4 813.3 229.5C814.5 228.8 815.7 227.0 816.9 225.0C817.4 224.2 817.8 220.6 818.3 220.2C819.3 219.5 820.3 221.2 821.4 221.5C822.8 221.9 824.3 222.2 825.8 222.7C827.6 223.3 829.4 224.2 831.2 225.0C833.0 225.9 834.8 227.8 836.6 228.6C838.4 229.5 840.1 230.7 841.9 230.8C843.4 230.8 844.9 230.2 846.4 229.2C847.3 228.5 848.2 226.6 849.1 225.0C849.7 224.0 850.3 220.9 850.9 220.6C851.8 220.1 852.7 222.2 853.6 222.4C855.3 222.7 857.1 221.9 858.9 222.4C860.4 222.7 861.9 224.1 863.4 225.0C865.2 226.2 867.0 228.7 868.8 229.5C870.6 230.4 872.3 231.1 874.1 230.8C875.6 230.5 877.1 229.7 878.6 227.7C879.2 226.9 879.8 222.6 880.4 221.5C881.1 220.1 881.8 219.2 882.5 219.3C883.6 219.5 884.7 222.4 885.8 222.7C887.3 223.2 888.9 222.2 890.4 222.0" stroke="#ff6e6e" stroke-width="0.90" fill="none"/><path d="M784.5 225.9C785.0 226.7 785.5 228.0 785.9 228.6C786.7 229.7 787.5 231.6 788.3 231.7C789.5 231.8 790.6 229.8 791.8 229.2C793.6 228.1 795.4 227.3 797.2 225.9C798.7 224.8 800.2 222.2 801.7 220.6C803.2 218.9 804.7 216.2 806.2 214.8C807.5 213.6 808.9 212.2 810.3 212.0C811.5 211.8 812.6 212.4 813.8 213.4C814.7 214.1 815.5 215.8 816.3 217.9C816.8 219.1 817.3 223.6 817.8 224.1C819.3 225.8 820.8 225.1 822.3 225.0C824.0 225.0 825.8 224.6 827.6 223.8C829.4 223.0 831.2 221.1 833.0 219.7C834.8 218.3 836.6 215.6 838.4 214.3C839.8 213.3 841.3 212.1 842.8 212.0C844.0 211.9 845.2 212.5 846.4 213.8C847.1 214.5 847.8 216.8 848.5 218.8C849.0 220.1 849.5 224.1 850.0 224.5C851.8 226.0 853.6 225.3 855.3 225.0C857.1 224.8 858.9 223.8 860.7 222.7C862.5 221.6 864.3 219.5 866.1 217.9C867.6 216.6 869.1 214.0 870.6 213.1C871.7 212.3 872.9 211.8 874.1 212.0C875.3 212.2 876.5 212.6 877.7 214.3C878.3 215.2 878.9 218.8 879.5 220.6C880.1 222.3 880.7 225.5 881.3 225.9C882.8 227.1 884.3 226.0 885.8 225.9C887.3 225.9 888.9 225.6 890.4 225.4" stroke="#1e1ed2" stroke-width="0.90" fill="none"/><path d="M899.5 224.7C901.5 224.5 903.5 224.2 905.4 224.1C907.2 224.1 909.0 224.3 910.8 224.5C912.3 224.7 913.8 224.2 915.3 225.6C915.9 226.1 916.5 230.6 917.1 230.9C918.3 231.7 919.4 229.5 920.6 229.2C922.7 228.5 924.8 228.2 926.9 227.7C929.3 227.2 931.7 226.4 934.1 225.9C936.1 225.6 938.2 225.0 940.3 225.0C942.1 225.1 943.9 225.2 945.7 226.3C946.6 226.8 947.5 230.0 948.4 230.4C949.6 230.9 950.8 229.4 951.9 229.2C954.3 228.6 956.7 228.3 959.1 227.7C961.5 227.1 963.9 225.7 966.3 225.0C968.0 224.5 969.8 223.8 971.6 223.8C973.4 223.8 975.2 223.5 977.0 225.0C977.7 225.7 978.4 230.4 979.1 230.9C980.2 231.7 981.3 229.4 982.4 229.2C984.7 228.6 987.1 228.7 989.5 228.1C991.9 227.5 994.3 225.5 996.7 225.0C999.7 224.4 1002.6 224.7 1005.6 224.5" stroke="#2a9e2a" stroke-width="0.90" fill="none"/><path d="M899.5 229.2C901.2 229.7 902.9 230.5 904.5 230.9C906.0 231.3 907.5 231.8 909.0 231.7C910.5 231.5 912.0 230.9 913.5 229.9C914.4 229.2 915.3 227.4 916.2 225.9C916.8 224.9 917.4 221.9 918.0 221.5C918.9 220.8 919.7 221.7 920.6 222.0C922.1 222.5 923.6 223.8 925.1 224.1C926.6 224.5 928.1 224.0 929.6 224.5C931.1 225.0 932.6 226.8 934.1 227.7C935.8 228.8 937.6 230.6 939.4 230.9C940.9 231.2 942.4 230.9 943.9 229.9C945.1 229.1 946.3 227.0 947.5 225.0C948.1 224.1 948.7 220.9 949.3 220.2C950.2 219.2 951.1 219.4 951.9 219.7C953.1 220.0 954.3 221.9 955.5 222.4C956.7 222.8 957.9 222.1 959.1 222.7C960.6 223.5 962.1 225.8 963.6 226.8C965.4 228.1 967.2 229.9 968.9 230.4C970.7 230.9 972.5 231.2 974.3 230.4C975.5 229.9 976.7 227.9 977.9 225.9C978.5 224.9 979.1 221.4 979.7 220.6C980.4 219.5 981.2 219.5 982.0 219.7C983.3 220.0 984.6 221.9 985.9 222.4C987.1 222.7 988.3 221.9 989.5 222.4C991.0 223.0 992.5 224.9 994.0 225.9C995.8 227.2 997.6 229.0 999.4 229.9C1000.8 230.6 1002.3 231.2 1003.8 231.3C1004.4 231.3 1005.0 230.7 1005.6 230.4" stroke="#ff6e6e" stroke-width="0.90" fill="none"/><path d="M899.5 216.1C901.2 215.3 902.9 214.2 904.5 213.4C906.0 212.7 907.5 211.2 909.0 211.1C910.2 211.0 911.4 211.5 912.6 212.5C913.5 213.3 914.4 215.1 915.3 217.0C915.9 218.3 916.5 222.7 917.1 223.3C918.9 224.9 920.6 224.6 922.4 224.5C924.2 224.4 926.0 223.7 927.8 222.7C929.6 221.7 931.4 219.4 933.2 217.9C934.7 216.6 936.1 214.5 937.6 213.4C938.8 212.6 940.0 211.6 941.2 211.6C942.4 211.6 943.6 212.1 944.8 213.4C945.5 214.2 946.2 216.6 946.9 218.8C947.4 220.2 947.9 225.1 948.4 225.6C950.2 227.2 951.9 225.8 953.7 225.6C955.5 225.3 957.3 224.9 959.1 223.8C960.9 222.7 962.7 220.1 964.5 218.4C966.0 217.0 967.5 214.6 968.9 213.4C970.1 212.5 971.3 211.3 972.5 211.3C973.7 211.3 974.9 211.9 976.1 213.4C976.9 214.4 977.6 217.5 978.4 219.7C979.0 221.3 979.6 225.5 980.2 225.9C982.1 227.4 984.0 226.2 985.9 225.9C987.4 225.7 988.9 225.2 990.4 224.1C991.9 223.1 993.4 220.4 994.9 218.8C996.4 217.2 997.9 214.7 999.4 213.4C1000.5 212.4 1001.7 211.6 1002.9 211.3C1003.8 211.0 1004.7 211.5 1005.6 211.6" stroke="#1e1ed2" stroke-width="0.90" fill="none"/><path d="M1014.5 228.1C1015.8 228.6 1017.0 229.9 1018.3 229.9C1019.5 229.8 1020.6 228.0 1021.8 227.7C1023.9 227.2 1026.0 227.7 1028.1 227.4C1030.5 227.0 1032.9 225.7 1035.3 225.4C1037.6 225.1 1040.0 225.1 1042.4 225.4C1043.9 225.6 1045.4 226.1 1046.9 226.8C1047.7 227.2 1048.4 229.0 1049.2 229.2C1050.2 229.3 1051.2 227.9 1052.3 227.7C1054.9 227.2 1057.6 227.3 1060.3 226.8C1062.7 226.4 1065.1 224.6 1067.5 224.5C1069.5 224.4 1071.6 225.4 1073.7 225.9C1074.9 226.2 1076.1 226.7 1077.3 227.4C1077.9 227.7 1078.5 229.2 1079.1 229.2C1080.3 229.2 1081.5 227.6 1082.7 227.4C1085.3 226.9 1088.0 227.1 1090.7 226.8C1093.1 226.6 1095.5 225.6 1097.9 225.4C1100.3 225.2 1102.6 224.7 1105.0 225.4C1105.9 225.7 1106.8 227.6 1107.7 228.6C1108.3 229.3 1108.9 230.9 1109.5 230.9C1110.7 230.9 1111.9 229.0 1113.1 228.6C1115.5 227.9 1118.0 227.7 1120.4 227.4" stroke="#2a9e2a" stroke-width="0.90" fill="none"/><path d="M1014.5 223.8C1015.2 222.7 1015.8 221.0 1016.5 220.2C1017.2 219.3 1018.0 217.8 1018.8 217.9C1020.0 218.0 1021.2 220.3 1022.4 220.9C1023.7 221.6 1025.0 221.4 1026.3 222.0C1027.8 222.7 1029.3 224.0 1030.8 225.0C1032.6 226.3 1034.4 228.5 1036.2 229.5C1037.6 230.3 1039.1 231.1 1040.6 230.9C1042.1 230.8 1043.6 230.1 1045.1 228.6C1045.9 227.8 1046.6 224.8 1047.4 223.3C1048.0 222.0 1048.6 219.5 1049.2 219.3C1050.2 219.0 1051.2 221.0 1052.3 221.5C1053.7 222.1 1055.2 222.2 1056.7 222.7C1058.2 223.3 1059.7 224.1 1061.2 225.0C1063.0 226.2 1064.8 228.7 1066.6 229.5C1068.4 230.3 1070.1 230.8 1071.9 230.4C1073.4 230.0 1074.9 228.9 1076.4 226.8C1077.0 226.0 1077.6 222.1 1078.2 220.9C1078.8 219.8 1079.4 219.1 1080.0 219.3C1081.2 219.7 1082.4 222.2 1083.6 222.7C1085.0 223.4 1086.5 222.8 1088.0 223.3C1089.5 223.7 1091.0 225.0 1092.5 225.9C1094.3 227.1 1096.1 229.5 1097.9 230.4C1099.4 231.1 1100.8 231.7 1102.3 231.3C1103.7 230.9 1105.1 229.7 1106.5 227.7C1107.2 226.7 1107.9 222.5 1108.6 221.5C1109.3 220.4 1110.0 220.4 1110.7 220.6C1112.1 220.9 1113.5 222.9 1114.9 223.3C1116.7 223.7 1118.6 223.3 1120.4 223.3" stroke="#ff6e6e" stroke-width="0.90" fill="none"/><path d="M1014.5 220.2C1015.2 221.9 1015.8 224.7 1016.5 225.9C1017.2 227.4 1018.0 229.4 1018.8 229.5C1020.1 229.7 1021.4 227.5 1022.7 226.8C1024.5 226.0 1026.3 225.7 1028.1 224.5C1029.6 223.5 1031.1 221.3 1032.6 219.7C1034.1 218.1 1035.6 215.1 1037.0 213.8C1038.4 212.6 1039.7 211.4 1041.0 211.3C1042.2 211.2 1043.4 211.7 1044.6 213.1C1045.3 213.9 1046.1 216.6 1046.9 218.8C1047.4 220.1 1047.8 224.6 1048.3 225.0C1049.9 226.5 1051.5 225.3 1053.1 225.0C1054.9 224.8 1056.7 224.3 1058.5 223.3C1060.3 222.2 1062.1 219.6 1063.9 217.9C1065.4 216.4 1066.9 213.6 1068.4 212.5C1069.5 211.6 1070.7 211.1 1071.9 211.3C1072.9 211.4 1074.0 211.8 1075.0 213.4C1075.6 214.3 1076.2 217.8 1076.8 219.7C1077.4 221.5 1078.0 225.1 1078.5 225.6C1080.2 226.9 1081.9 225.9 1083.6 225.6C1085.3 225.2 1087.1 224.4 1088.9 223.3C1090.7 222.1 1092.5 219.6 1094.3 217.9C1095.8 216.4 1097.3 213.6 1098.8 212.5C1100.0 211.6 1101.1 211.1 1102.3 211.3C1103.5 211.5 1104.7 211.9 1105.9 213.8C1106.5 214.7 1107.1 219.1 1107.7 220.6C1108.3 222.1 1108.9 223.5 1109.5 223.8C1111.3 224.5 1113.1 223.9 1114.9 223.8C1116.7 223.6 1118.6 223.0 1120.4 222.7" stroke="#1e1ed2" stroke-width="0.90" fill="none"/><path d="M1129.5 224.1C1132.1 224.0 1134.7 223.5 1137.2 223.8C1139.0 224.0 1140.8 225.0 1142.6 225.9C1143.5 226.4 1144.4 228.5 1145.3 228.6C1146.8 228.9 1148.3 227.6 1149.7 227.4C1152.1 227.0 1154.5 227.1 1156.9 226.8C1159.3 226.6 1161.7 225.8 1164.1 225.6C1166.4 225.4 1168.8 225.3 1171.2 225.6C1173.0 225.8 1174.8 226.6 1176.6 227.4C1177.5 227.8 1178.4 229.4 1179.3 229.5C1180.8 229.7 1182.2 228.9 1183.7 228.6C1186.1 228.1 1188.5 227.4 1190.9 226.8C1193.3 226.3 1195.7 225.2 1198.0 225.0C1200.1 224.9 1202.2 224.8 1204.3 225.6C1205.5 226.0 1206.7 228.2 1207.9 229.2C1208.5 229.6 1209.1 230.5 1209.7 230.4C1211.2 230.3 1212.7 228.9 1214.1 228.6C1216.5 228.1 1218.9 228.2 1221.3 227.7C1223.7 227.3 1226.1 225.9 1228.5 225.6C1230.8 225.3 1233.2 225.6 1235.6 225.6" stroke="#2a9e2a" stroke-width="0.90" fill="none"/><path d="M1129.5 232.2C1131.5 232.6 1133.5 233.4 1135.4 233.4C1136.9 233.4 1138.4 233.0 1139.9 232.2C1141.1 231.6 1142.3 230.4 1143.5 228.6C1144.1 227.7 1144.7 224.5 1145.3 223.3C1146.0 221.7 1146.8 219.5 1147.6 219.3C1148.6 219.0 1149.6 221.1 1150.6 221.5C1152.1 221.9 1153.6 221.5 1155.1 222.0C1156.6 222.5 1158.1 223.6 1159.6 224.5C1161.1 225.4 1162.6 227.2 1164.1 228.1C1165.8 229.1 1167.6 230.6 1169.4 230.8C1171.2 230.9 1173.0 230.5 1174.8 229.2C1176.0 228.3 1177.2 224.9 1178.4 223.3C1179.3 222.0 1180.2 219.5 1181.1 219.3C1182.2 219.0 1183.4 221.1 1184.6 221.5C1186.1 221.9 1187.6 221.3 1189.1 222.0C1190.6 222.7 1192.1 224.8 1193.6 225.9C1195.4 227.3 1197.2 229.7 1198.9 230.4C1200.7 231.1 1202.5 231.1 1204.3 230.4C1205.5 230.0 1206.7 228.6 1207.9 226.8C1208.5 225.9 1209.1 222.1 1209.7 221.5C1210.6 220.5 1211.5 221.1 1212.4 221.5C1213.6 221.9 1214.7 223.8 1215.9 224.1C1217.4 224.6 1218.9 223.7 1220.4 224.1C1221.9 224.5 1223.4 226.0 1224.9 226.8C1226.7 227.8 1228.5 229.5 1230.2 230.0C1232.0 230.6 1233.8 230.3 1235.6 230.4" stroke="#ff6e6e" stroke-width="0.90" fill="none"/><path d="M1129.5 216.1C1130.9 215.3 1132.3 214.2 1133.6 213.4C1135.1 212.5 1136.6 210.7 1138.1 210.4C1139.3 210.1 1140.5 210.6 1141.7 211.6C1142.5 212.3 1143.2 214.1 1144.0 216.1C1144.6 217.6 1145.2 222.0 1145.8 223.3C1146.5 224.8 1147.2 225.5 1148.0 225.6C1150.3 225.9 1152.7 225.3 1155.1 224.5C1156.9 223.9 1158.7 222.2 1160.5 220.9C1162.3 219.7 1164.1 217.5 1165.8 216.1C1167.3 214.9 1168.8 213.0 1170.3 212.5C1171.8 212.1 1173.3 212.0 1174.8 213.1C1175.7 213.7 1176.6 215.6 1177.5 217.9C1178.1 219.4 1178.7 225.3 1179.3 225.9C1181.1 227.7 1182.8 226.5 1184.6 225.9C1186.4 225.4 1188.2 223.8 1190.0 222.4C1191.8 220.9 1193.6 217.9 1195.4 216.1C1196.9 214.6 1198.3 212.4 1199.8 211.6C1201.0 211.0 1202.2 210.9 1203.4 211.3C1204.6 211.7 1205.8 212.3 1207.0 214.3C1207.6 215.3 1208.2 219.8 1208.8 221.5C1209.4 223.2 1210.0 225.3 1210.6 225.6C1212.4 226.3 1214.1 224.9 1215.9 224.5C1217.7 224.1 1219.5 223.8 1221.3 222.7C1223.1 221.6 1224.9 218.7 1226.7 217.0C1228.2 215.5 1229.7 212.8 1231.1 212.0C1232.6 211.2 1234.1 211.7 1235.6 211.6" stroke="#1e1ed2" stroke-width="0.90" fill="none"/><path d="M1244.6 226.3C1245.7 226.5 1246.7 226.4 1247.8 226.9C1248.7 227.3 1249.6 228.2 1250.5 229.3C1251.0 229.9 1251.6 232.5 1252.1 232.5C1253.2 232.6 1254.3 230.3 1255.3 229.8C1257.1 229.0 1258.9 228.8 1260.7 228.2C1262.5 227.6 1264.3 226.7 1266.1 226.1C1267.7 225.5 1269.3 224.5 1271.0 224.4C1272.6 224.4 1274.2 225.0 1275.8 225.5C1276.9 225.8 1278.0 226.0 1279.0 227.1C1279.7 227.9 1280.5 231.4 1281.2 231.7C1282.6 232.1 1284.1 229.8 1285.5 229.3C1286.9 228.7 1288.4 228.4 1289.8 228.0C1291.2 227.6 1292.5 227.0 1293.9 226.6" stroke="#2a9e2a" stroke-width="0.90" fill="none"/><path d="M1244.6 233.4C1245.7 232.8 1246.7 232.3 1247.8 231.4C1248.7 230.7 1249.6 229.9 1250.5 228.2C1250.9 227.5 1251.2 224.1 1251.6 223.4C1252.1 222.2 1252.7 221.6 1253.2 221.8C1254.3 222.0 1255.3 224.2 1256.4 224.4C1257.7 224.7 1258.9 223.5 1260.2 223.4C1261.3 223.2 1262.3 222.9 1263.4 223.4C1264.7 223.9 1265.9 225.6 1267.2 226.6C1268.6 227.7 1270.1 229.5 1271.5 230.4C1272.6 231.0 1273.6 231.5 1274.7 231.4C1275.8 231.4 1276.9 230.9 1278.0 229.8C1278.7 229.1 1279.4 226.9 1280.1 225.5C1280.6 224.5 1281.2 222.2 1281.7 221.8C1282.4 221.1 1283.2 221.6 1283.9 222.0C1284.6 222.3 1285.3 223.8 1286.0 223.9C1287.3 224.1 1288.5 222.8 1289.8 222.8C1291.2 222.9 1292.5 224.0 1293.9 224.4" stroke="#ff6e6e" stroke-width="0.90" fill="none"/><path d="M1244.6 207.8C1245.5 208.2 1246.4 208.6 1247.3 209.4C1248.2 210.2 1249.1 211.4 1250.0 213.1C1250.5 214.2 1251.0 217.1 1251.6 218.5C1252.1 219.9 1252.7 221.8 1253.2 222.3C1254.5 223.4 1255.7 223.8 1257.0 223.9C1258.6 224.1 1260.2 224.0 1261.8 223.4C1263.2 222.8 1264.7 221.4 1266.1 220.1C1267.5 218.8 1269.0 216.2 1270.4 214.8C1271.5 213.7 1272.6 212.2 1273.6 211.8C1274.7 211.5 1275.8 211.6 1276.9 212.3C1277.8 212.8 1278.7 213.8 1279.6 215.8C1279.9 216.6 1280.3 220.8 1280.6 221.8C1281.2 223.2 1281.7 223.5 1282.3 223.7C1283.7 224.3 1285.1 224.5 1286.6 224.4C1288.0 224.3 1289.4 223.6 1290.9 223.0C1291.9 222.6 1292.9 221.8 1293.9 221.2" stroke="#1e1ed2" stroke-width="0.90" fill="none"/><path d="M324.9 306H430.1" stroke="#ff9696" stroke-width="1.3"/><path d="M324.9 312.2H430.1" stroke="#70c070" stroke-width="1.3"/><path d="M324.9 318.9H430.1" stroke="#5858dc" stroke-width="1.4"/><path d="M439.9 306H545.1" stroke="#ff9696" stroke-width="1.3"/><path d="M439.9 312.2H545.1" stroke="#70c070" stroke-width="1.3"/><path d="M439.9 318.9H545.1" stroke="#5858dc" stroke-width="1.4"/><path d="M554.9 306H660.1" stroke="#ff9696" stroke-width="1.3"/><path d="M554.9 312.2H660.1" stroke="#70c070" stroke-width="1.3"/><path d="M554.9 318.9H660.1" stroke="#5858dc" stroke-width="1.4"/><path d="M669.9 306H775.1" stroke="#ff9696" stroke-width="1.3"/><path d="M669.9 312.2H775.1" stroke="#70c070" stroke-width="1.3"/><path d="M669.9 318.9H775.1" stroke="#5858dc" stroke-width="1.4"/><path d="M784.9 306H890.1" stroke="#ff9696" stroke-width="1.3"/><path d="M784.9 312.2H890.1" stroke="#70c070" stroke-width="1.3"/><path d="M784.9 318.9H890.1" stroke="#5858dc" stroke-width="1.4"/><path d="M899.9 306H1005.1" stroke="#ff9696" stroke-width="1.3"/><path d="M899.9 312.2H1005.1" stroke="#70c070" stroke-width="1.3"/><path d="M899.9 318.9H1005.1" stroke="#5858dc" stroke-width="1.4"/><path d="M1014.9 306H1120.1" stroke="#ff9696" stroke-width="1.3"/><path d="M1014.9 312.2H1120.1" stroke="#70c070" stroke-width="1.3"/><path d="M1014.9 318.9H1120.1" stroke="#5858dc" stroke-width="1.4"/><path d="M1129.9 306H1235.1" stroke="#ff9696" stroke-width="1.3"/><path d="M1129.9 312.2H1235.1" stroke="#70c070" stroke-width="1.3"/><path d="M1129.9 318.9H1235.1" stroke="#5858dc" stroke-width="1.4"/><path d="M1244.9 306H1296.0" stroke="#ff9696" stroke-width="1.3"/><path d="M1244.9 312.2H1296.0" stroke="#70c070" stroke-width="1.3"/><path d="M1244.9 318.9H1296.0" stroke="#5858dc" stroke-width="1.4"/><rect x="15.3" y="18.85" width="25.1" height="13" rx="6.5" ry="6.5" fill="none" stroke="#fff" stroke-width="2.9"/><circle cx="21.6" cy="25.4" r="1.6" fill="#fff"/><circle cx="33.9" cy="25.4" r="1.6" fill="#fff"/><path d="M46.1 21.8V28.9M46.1 24.65a2.85 2.85 0 0 1 5.7 0V28.9M51.8 24.65a2.8 2.8 0 0 1 5.6 0V28.9M60.95 21.8V28.9M71.5 22.9a3.35 3.55 0 1 0 0 4.9M76.1 21.8V28.9M76.1 25.3a3.4 3.4 0 0 1 3.9 -3.3M85.95 21.8a3.55 3.55 0 1 0 0.01 0zM97.2 17.4V25.35a3.35 3.55 0 1 0 3.35 -3.55a3.35 3.55 0 0 0 -3.35 3.55M108.55 21.8V28.9M112.9 18.5V26a2.9 2.9 0 0 0 3.9 2.7M112.9 21.9H116.6" fill="none" stroke="#fff" stroke-width="2.1" stroke-linecap="round" stroke-linejoin="round"/><circle cx="60.95" cy="17.30" r="1.3" fill="#fff"/><circle cx="108.55" cy="17.30" r="1.3" fill="#fff"/><circle cx="93.10" cy="21.90" r="1.3" fill="#fff"/><circle cx="93.10" cy="28.80" r="1.3" fill="#fff"/><path d="M129.15 14.1V35.8" stroke="#fff" stroke-width="1.2" opacity="0.85"/><path d="M149.5 21.6a4.75 4.9 0 1 0 0 6.1M153.6 23.2V29.9M153.6 25.8a3 3 0 0 1 3.3 -2.5M158.30 26.45H164.10a2.9 3 0 1 0 -0.9 2.2M172.45 23.2V29.9M172.45 26.45a2.95 3 0 1 0 -5.9 0a2.95 3 0 1 0 5.9 0M176.7 20.9V29.9M175 23.4H179M180.80 26.45H186.60a2.9 3 0 1 0 -0.9 2.2M188.6 29.9L192.2 20.1L195.8 29.9M189.8 26.9H194.6M198.4 20V29.9" fill="none" stroke="#fff" stroke-width="1.2" stroke-linecap="butt" stroke-linejoin="round"/><path transform="translate(1182.50 16.50) scale(0.6667)" d="M19 21H5a1 1 0 01-1-1v-9H1l10.327-9.388a1 1 0 011.346 0L23 11h-3v9a1 1 0 01-1 1zM6 19h12V9.157l-6-5.454-6 5.454V19z" fill="#fff"/><path transform="translate(1223.10 16.55) scale(0.6667)" d="M8.686 4l2.607-2.607a1 1 0 011.414 0L15.314 4H19a1 1 0 011 1v3.686l2.607 2.607a1 1 0 010 1.414L20 15.314V19a1 1 0 01-1 1h-3.686l-2.607 2.607a1 1 0 01-1.414 0L8.686 20H5a1 1 0 01-1-1v-3.686l-2.607-2.607a1 1 0 010-1.414L4 8.686V5a1 1 0 011-1h3.686zM6 6v3.515L3.515 12 6 14.485V18h3.515L12 20.485 14.485 18H18v-3.515L20.485 12 18 9.515V6h-3.515L12 3.515 9.515 6H6zm6 10a4 4 0 110-8 4 4 0 010 8zm0-2a2 2 0 100-4 2 2 0 000 4z" fill="#fff"/><path transform="translate(1261.10 16.70) scale(0.6667)" d="M12 22C6.477 22 2 17.523 2 12S6.477 2 12 2s10 4.477 10 10-4.477 10-10 10zm0-2a8 8 0 100-16 8 8 0 000 16zm-1-5h2v2h-2v-2zm2-1.645V14h-2v-1.5a1 1 0 011-1 1.5 1.5 0 10-1.471-1.794l-1.962-.393A3.501 3.501 0 1113 13.355z" fill="#fff"/><path transform="translate(1114.30 19.30) scale(0.4458)" d="M13 10h5l-6 6-6-6h5V3h2v7zm-9 9h16v-7h2v8a1 1 0 01-1 1H3a1 1 0 01-1-1v-8h2v7z" fill="#1a202c"/><rect x="296.15" y="115.35" width="1.3" height="1.3" fill="#fff"/><rect x="296.15" y="117.95" width="1.3" height="1.3" fill="#fff"/><rect x="296.15" y="120.55" width="1.3" height="1.3" fill="#fff"/><rect x="296.15" y="204.65" width="1.3" height="1.3" fill="#e23b3f"/><rect x="296.15" y="207.25" width="1.3" height="1.3" fill="#e23b3f"/><rect x="296.15" y="209.85" width="1.3" height="1.3" fill="#e23b3f"/><rect x="296.15" y="293.95" width="1.3" height="1.3" fill="#e23b3f"/><rect x="296.15" y="296.55" width="1.3" height="1.3" fill="#e23b3f"/><rect x="296.15" y="299.15" width="1.3" height="1.3" fill="#e23b3f"/></svg>
</div></div></body></html>
